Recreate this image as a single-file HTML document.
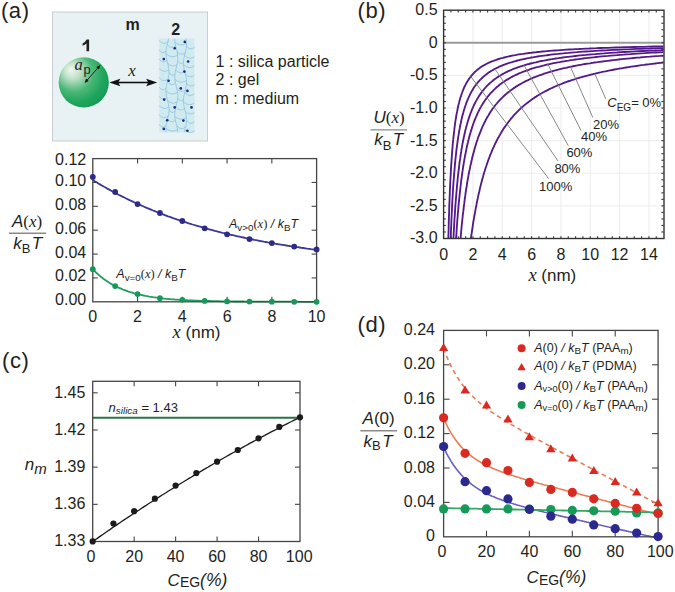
<!DOCTYPE html>
<html><head><meta charset="utf-8"><style>
html,body{margin:0;padding:0;background:#fff;overflow:hidden;width:675px;height:592px;}
svg{display:block;}

</style></head><body>
<svg width="675" height="592" viewBox="0 0 675 592">
<rect width="675" height="592" fill="#fff"/>
<text x="0.90" y="18.00" font-size="22" font-family='"Liberation Sans", sans-serif' text-anchor="start" fill="#231f20" letter-spacing="0.6">(a)</text>
<text x="357.60" y="18.20" font-size="22" font-family='"Liberation Sans", sans-serif' text-anchor="start" fill="#231f20" letter-spacing="0.6">(b)</text>
<text x="2.00" y="368.40" font-size="22" font-family='"Liberation Sans", sans-serif' text-anchor="start" fill="#231f20" letter-spacing="0.6">(c)</text>
<text x="357.50" y="331.90" font-size="22" font-family='"Liberation Sans", sans-serif' text-anchor="start" fill="#231f20" letter-spacing="0.6">(d)</text>
<defs><radialGradient id="sph" cx="0.38" cy="0.38" r="0.78" fx="0.24" fy="0.24"><stop offset="0" stop-color="#f2f7ef"/><stop offset="0.2" stop-color="#c2e3ca"/><stop offset="0.48" stop-color="#4cb878"/><stop offset="0.72" stop-color="#1ea55c"/><stop offset="1" stop-color="#129553"/></radialGradient><marker id="ah" viewBox="0 0 10 10" refX="10" refY="5" markerWidth="7" markerHeight="7" orient="auto-start-reverse" markerUnits="userSpaceOnUse"><path d="M0 0 L10 5 L0 10 L3 5 z" fill="#111"/></marker><marker id="ah2" viewBox="0 0 10 10" refX="10" refY="5" markerWidth="4" markerHeight="4" orient="auto-start-reverse" markerUnits="userSpaceOnUse"><path d="M0 0 L10 5 L0 10 z" fill="#111"/></marker></defs>
<rect x="52.5" y="12" width="155" height="129" fill="#e8f2f5" stroke="#c9cdd0" stroke-width="1"/>
<circle cx="83.75" cy="82.4" r="25.1" fill="url(#sph)"/>
<line x1="86.5" y1="80.8" x2="98.5" y2="67.2" stroke="#111" stroke-width="0.9"/>
<path d="M84.6 82.9 L86.0 78.6 L88.6 80.9 Z" fill="#111"/>
<path d="M100.4 65.0 L99.0 69.3 L96.4 67.0 Z" fill="#111"/>
<text x="74.60" y="70.20" font-size="16.5" font-family='"Liberation Serif", serif' text-anchor="start" fill="#231f20" font-style="italic" >a</text>
<text x="83.60" y="74.20" font-size="13" font-family='"Liberation Sans", sans-serif' text-anchor="start" fill="#231f20" >p</text>
<path d="M86.6 39.6 L89.1 39.6 L89.1 51.2 L86.5 51.2 L86.5 43.6 Q84.8 45.0 82.6 45.7 L82.6 43.4 Q85.5 42.2 86.6 39.6 Z" fill="#231f20"/>
<text x="125.50" y="29.60" font-size="16" font-family='"Liberation Sans", sans-serif' text-anchor="start" fill="#231f20" font-weight="bold" >m</text>
<text x="171.30" y="35.10" font-size="16" font-family='"Liberation Sans", sans-serif' text-anchor="start" fill="#231f20" font-weight="bold" >2</text>
<line x1="118" y1="82.5" x2="149" y2="82.5" stroke="#111" stroke-width="1.6"/>
<path d="M109.3 82.5 L120.3 78.7 L118.3 82.5 L120.3 86.3 Z" fill="#111"/>
<path d="M157.2 82.5 L146.2 78.7 L148.2 82.5 L146.2 86.3 Z" fill="#111"/>
<text x="128.20" y="76.30" font-size="17" font-family='"Liberation Serif", serif' text-anchor="start" fill="#231f20" font-style="italic" >x</text>
<rect x="159.2" y="38.6" width="35.3" height="93.8" fill="#d0eaf0"/>
<path d="M168.7 38.6 L168.2 41.0 L167.6 43.4 L166.9 45.8 L166.4 48.2 L166.0 50.6 L165.9 53.0 L166.0 55.4 L166.4 57.8 L166.9 60.2 L167.5 62.7 L168.2 65.1 L168.7 67.5 L169.0 69.9 L169.1 72.3 L168.9 74.7 L168.5 77.1 L168.0 79.5 L167.4 81.9 L166.7 84.3 L166.3 86.7 L166.0 89.1 L165.9 91.5 L166.1 93.9 L166.5 96.3 L167.1 98.7 L167.7 101.1 L168.3 103.5 L168.8 105.9 L169.1 108.3 L169.1 110.8 L168.8 113.2 L168.4 115.6 L167.8 118.0 L167.1 120.4 L166.6 122.8 L166.1 125.2 L165.9 127.6 L166.0 130.0 L166.2 132.4 M174.7 38.6 L174.8 41.0 L175.1 43.4 L175.6 45.8 L176.2 48.2 L176.8 50.6 L177.4 53.0 L177.7 55.4 L177.9 57.8 L177.8 60.2 L177.5 62.7 L176.9 65.1 L176.3 67.5 L175.7 69.9 L175.2 72.3 L174.8 74.7 L174.7 77.1 L174.8 79.5 L175.2 81.9 L175.8 84.3 L176.4 86.7 L177.0 89.1 L177.5 91.5 L177.8 93.9 L177.9 96.3 L177.7 98.7 L177.3 101.1 L176.7 103.5 L176.1 105.9 L175.5 108.3 L175.0 110.8 L174.8 113.2 L174.7 115.6 L174.9 118.0 L175.4 120.4 L176.0 122.8 L176.6 125.2 L177.2 127.6 L177.6 130.0 L177.9 132.4 M185.9 38.6 L186.4 41.0 L186.6 43.4 L186.6 45.8 L186.3 48.2 L185.8 50.6 L185.2 53.0 L184.6 55.4 L184.0 57.8 L183.6 60.2 L183.4 62.7 L183.5 65.1 L183.8 67.5 L184.3 69.9 L184.9 72.3 L185.5 74.7 L186.1 77.1 L186.5 79.5 L186.6 81.9 L186.5 84.3 L186.1 86.7 L185.6 89.1 L185.0 91.5 L184.4 93.9 L183.8 96.3 L183.5 98.7 L183.4 101.1 L183.6 103.5 L183.9 105.9 L184.5 108.3 L185.1 110.8 L185.7 113.2 L186.2 115.6 L186.5 118.0 L186.6 120.4 L186.4 122.8 L186.0 125.2 L185.4 127.6 L184.8 130.0 L184.2 132.4 M159.2 40.6 Q163.6 45.6 168.0 41.8 M159.2 49.9 Q162.6 54.9 166.0 51.1 M159.2 59.2 Q163.1 64.2 167.0 60.4 M159.2 68.5 Q164.1 73.5 169.0 69.7 M159.2 77.8 Q163.7 82.8 168.1 79.0 M159.2 87.1 Q162.6 92.1 166.0 88.3 M159.2 96.4 Q163.0 101.4 166.8 97.6 M159.2 105.7 Q164.1 110.7 168.9 106.9 M159.2 115.0 Q163.7 120.0 168.2 116.2 M159.2 124.3 Q162.6 129.3 166.1 125.5 M167.2 44.6 Q171.4 49.6 175.6 45.8 M165.9 53.9 Q171.8 58.9 177.7 55.1 M167.7 63.2 Q172.4 68.2 177.1 64.4 M169.1 72.5 Q172.0 77.5 174.9 73.7 M167.4 81.8 Q171.4 86.8 175.4 83.0 M165.9 91.1 Q171.8 96.1 177.6 92.3 M167.6 100.4 Q172.4 105.4 177.2 101.6 M169.1 109.7 Q172.1 114.7 175.0 110.9 M167.5 119.0 Q171.4 124.0 175.3 120.2 M165.9 128.3 Q171.7 133.3 177.6 129.5 M174.9 42.1 Q180.7 47.1 186.6 43.3 M177.0 51.4 Q181.2 56.4 185.3 52.6 M177.8 60.7 Q180.6 65.7 183.4 61.9 M175.7 70.0 Q180.1 75.0 184.6 71.2 M174.8 79.3 Q180.7 84.3 186.5 80.5 M176.9 88.6 Q181.2 93.6 185.4 89.8 M177.8 97.9 Q180.6 102.9 183.5 99.1 M175.8 107.2 Q180.1 112.2 184.5 108.4 M174.8 116.5 Q180.6 121.5 186.5 117.7 M176.7 125.8 Q181.2 130.8 185.6 127.0 M186.5 46.1 Q190.5 51.1 194.5 47.3 M184.6 55.4 Q189.5 60.4 194.5 56.6 M183.5 64.7 Q189.0 69.7 194.5 65.9 M185.4 74.0 Q189.9 79.0 194.5 75.2 M186.6 83.3 Q190.5 88.3 194.5 84.5 M184.7 92.6 Q189.6 97.6 194.5 93.8 M183.4 101.9 Q189.0 106.9 194.5 103.1 M185.2 111.2 Q189.9 116.2 194.5 112.4 M186.6 120.5 Q190.5 125.5 194.5 121.7 M184.8 129.8 Q189.7 134.8 194.5 131.0" fill="none" stroke="#72b4d6" stroke-width="0.55"/>
<circle cx="184.8" cy="41.9" r="1.3" fill="#1c2580"/>
<circle cx="174.7" cy="48.3" r="1.3" fill="#1c2580"/>
<circle cx="163.8" cy="59.1" r="1.3" fill="#1c2580"/>
<circle cx="188.1" cy="61.5" r="1.3" fill="#1c2580"/>
<circle cx="184.4" cy="71.6" r="1.3" fill="#1c2580"/>
<circle cx="168.6" cy="80.7" r="1.3" fill="#1c2580"/>
<circle cx="180.8" cy="88.4" r="1.3" fill="#1c2580"/>
<circle cx="187.4" cy="90.9" r="1.3" fill="#1c2580"/>
<circle cx="164.2" cy="99.6" r="1.3" fill="#1c2580"/>
<circle cx="174.7" cy="107.4" r="1.3" fill="#1c2580"/>
<circle cx="191.5" cy="107.4" r="1.3" fill="#1c2580"/>
<circle cx="167.2" cy="120.2" r="1.3" fill="#1c2580"/>
<circle cx="183.4" cy="120.6" r="1.3" fill="#1c2580"/>
<circle cx="163.8" cy="128.9" r="1.3" fill="#1c2580"/>
<circle cx="187.4" cy="130.7" r="1.3" fill="#1c2580"/>
<text x="215.60" y="66.80" font-size="16" font-family='"Liberation Sans", sans-serif' text-anchor="start" fill="#231f20" >1 : silica particle</text>
<text x="215.60" y="85.40" font-size="16" font-family='"Liberation Sans", sans-serif' text-anchor="start" fill="#231f20" >2 : gel</text>
<text x="215.60" y="104.10" font-size="16" font-family='"Liberation Sans", sans-serif' text-anchor="start" fill="#231f20" >m : medium</text>
<line x1="92.80" y1="277.93" x2="97.80" y2="277.93" stroke="#454545" stroke-width="1.1" />
<line x1="316.60" y1="277.93" x2="311.60" y2="277.93" stroke="#454545" stroke-width="1.1" />
<line x1="92.80" y1="254.07" x2="97.80" y2="254.07" stroke="#454545" stroke-width="1.1" />
<line x1="316.60" y1="254.07" x2="311.60" y2="254.07" stroke="#454545" stroke-width="1.1" />
<line x1="92.80" y1="230.20" x2="97.80" y2="230.20" stroke="#454545" stroke-width="1.1" />
<line x1="316.60" y1="230.20" x2="311.60" y2="230.20" stroke="#454545" stroke-width="1.1" />
<line x1="92.80" y1="206.33" x2="97.80" y2="206.33" stroke="#454545" stroke-width="1.1" />
<line x1="316.60" y1="206.33" x2="311.60" y2="206.33" stroke="#454545" stroke-width="1.1" />
<line x1="92.80" y1="182.47" x2="97.80" y2="182.47" stroke="#454545" stroke-width="1.1" />
<line x1="316.60" y1="182.47" x2="311.60" y2="182.47" stroke="#454545" stroke-width="1.1" />
<line x1="137.56" y1="158.60" x2="137.56" y2="163.60" stroke="#454545" stroke-width="1.1" />
<line x1="137.56" y1="301.80" x2="137.56" y2="296.80" stroke="#454545" stroke-width="1.1" />
<line x1="182.32" y1="158.60" x2="182.32" y2="163.60" stroke="#454545" stroke-width="1.1" />
<line x1="182.32" y1="301.80" x2="182.32" y2="296.80" stroke="#454545" stroke-width="1.1" />
<line x1="227.08" y1="158.60" x2="227.08" y2="163.60" stroke="#454545" stroke-width="1.1" />
<line x1="227.08" y1="301.80" x2="227.08" y2="296.80" stroke="#454545" stroke-width="1.1" />
<line x1="271.84" y1="158.60" x2="271.84" y2="163.60" stroke="#454545" stroke-width="1.1" />
<line x1="271.84" y1="301.80" x2="271.84" y2="296.80" stroke="#454545" stroke-width="1.1" />
<text x="86.20" y="305.15" font-size="16" font-family='"Liberation Sans", sans-serif' text-anchor="end" fill="#231f20" >0.00</text>
<text x="86.20" y="281.45" font-size="16" font-family='"Liberation Sans", sans-serif' text-anchor="end" fill="#231f20" >0.02</text>
<text x="86.20" y="257.75" font-size="16" font-family='"Liberation Sans", sans-serif' text-anchor="end" fill="#231f20" >0.04</text>
<text x="86.20" y="234.25" font-size="16" font-family='"Liberation Sans", sans-serif' text-anchor="end" fill="#231f20" >0.06</text>
<text x="86.20" y="209.95" font-size="16" font-family='"Liberation Sans", sans-serif' text-anchor="end" fill="#231f20" >0.08</text>
<text x="86.20" y="185.65" font-size="16" font-family='"Liberation Sans", sans-serif' text-anchor="end" fill="#231f20" >0.10</text>
<text x="86.20" y="164.95" font-size="16" font-family='"Liberation Sans", sans-serif' text-anchor="end" fill="#231f20" >0.12</text>
<text x="92.80" y="321.60" font-size="16" font-family='"Liberation Sans", sans-serif' text-anchor="middle" fill="#231f20" >0</text>
<text x="137.56" y="321.60" font-size="16" font-family='"Liberation Sans", sans-serif' text-anchor="middle" fill="#231f20" >2</text>
<text x="182.32" y="321.60" font-size="16" font-family='"Liberation Sans", sans-serif' text-anchor="middle" fill="#231f20" >4</text>
<text x="227.08" y="321.60" font-size="16" font-family='"Liberation Sans", sans-serif' text-anchor="middle" fill="#231f20" >6</text>
<text x="271.84" y="321.60" font-size="16" font-family='"Liberation Sans", sans-serif' text-anchor="middle" fill="#231f20" >8</text>
<text x="316.60" y="321.60" font-size="16" font-family='"Liberation Sans", sans-serif' text-anchor="middle" fill="#231f20" >10</text>
<path d="M92.8 180.0 L94.7 181.2 L96.6 182.3 L98.4 183.5 L100.3 184.6 L102.2 185.7 L104.1 186.8 L106.0 187.8 L107.8 188.9 L109.7 189.9 L111.6 191.0 L113.5 192.0 L115.4 193.0 L117.2 194.0 L119.1 195.0 L121.0 195.9 L122.9 196.9 L124.8 197.8 L126.7 198.7 L128.5 199.6 L130.4 200.5 L132.3 201.4 L134.2 202.3 L136.1 203.2 L137.9 204.0 L139.8 204.9 L141.7 205.7 L143.6 206.5 L145.5 207.3 L147.3 208.1 L149.2 208.9 L151.1 209.7 L153.0 210.5 L154.9 211.2 L156.7 212.0 L158.6 212.7 L160.5 213.4 L162.4 214.2 L164.3 214.9 L166.1 215.6 L168.0 216.3 L169.9 216.9 L171.8 217.6 L173.7 218.3 L175.5 218.9 L177.4 219.6 L179.3 220.2 L181.2 220.9 L183.1 221.5 L185.0 222.1 L186.8 222.7 L188.7 223.3 L190.6 223.9 L192.5 224.5 L194.4 225.0 L196.2 225.6 L198.1 226.2 L200.0 226.7 L201.9 227.2 L203.8 227.8 L205.6 228.3 L207.5 228.8 L209.4 229.4 L211.3 229.9 L213.2 230.4 L215.0 230.9 L216.9 231.3 L218.8 231.8 L220.7 232.3 L222.6 232.8 L224.4 233.2 L226.3 233.7 L228.2 234.1 L230.1 234.6 L232.0 235.0 L233.9 235.5 L235.7 235.9 L237.6 236.3 L239.5 236.7 L241.4 237.1 L243.3 237.5 L245.1 237.9 L247.0 238.3 L248.9 238.7 L250.8 239.1 L252.7 239.5 L254.5 239.9 L256.4 240.2 L258.3 240.6 L260.2 241.0 L262.1 241.3 L263.9 241.7 L265.8 242.0 L267.7 242.4 L269.6 242.7 L271.5 243.0 L273.3 243.3 L275.2 243.7 L277.1 244.0 L279.0 244.3 L280.9 244.6 L282.7 244.9 L284.6 245.2 L286.5 245.5 L288.4 245.8 L290.3 246.1 L292.2 246.4 L294.0 246.7 L295.9 247.0 L297.8 247.2 L299.7 247.5 L301.6 247.8 L303.4 248.0 L305.3 248.3 L307.2 248.6 L309.1 248.8 L311.0 249.1 L312.8 249.3 L314.7 249.6 L316.6 249.8" fill="none" stroke="#3b3795" stroke-width="1.8"/>
<path d="M92.8 269.2 L94.7 271.1 L96.6 273.0 L98.4 274.7 L100.3 276.3 L102.2 277.8 L104.1 279.2 L106.0 280.5 L107.8 281.8 L109.7 283.0 L111.6 284.1 L113.5 285.1 L115.4 286.1 L117.2 287.0 L119.1 287.9 L121.0 288.7 L122.9 289.5 L124.8 290.2 L126.7 290.9 L128.5 291.6 L130.4 292.2 L132.3 292.7 L134.2 293.3 L136.1 293.8 L137.9 294.3 L139.8 294.7 L141.7 295.1 L143.6 295.5 L145.5 295.9 L147.3 296.2 L149.2 296.6 L151.1 296.9 L153.0 297.2 L154.9 297.4 L156.7 297.7 L158.6 297.9 L160.5 298.2 L162.4 298.4 L164.3 298.6 L166.1 298.8 L168.0 298.9 L169.9 299.1 L171.8 299.3 L173.7 299.4 L175.5 299.6 L177.4 299.7 L179.3 299.8 L181.2 299.9 L183.1 300.0 L185.0 300.1 L186.8 300.2 L188.7 300.3 L190.6 300.4 L192.5 300.5 L194.4 300.6 L196.2 300.7 L198.1 300.7 L200.0 300.8 L201.9 300.8 L203.8 300.9 L205.6 301.0 L207.5 301.0 L209.4 301.0 L211.3 301.1 L213.2 301.1 L215.0 301.2 L216.9 301.2 L218.8 301.2 L220.7 301.3 L222.6 301.3 L224.4 301.3 L226.3 301.4 L228.2 301.4 L230.1 301.4 L232.0 301.4 L233.9 301.5 L235.7 301.5 L237.6 301.5 L239.5 301.5 L241.4 301.5 L243.3 301.5 L245.1 301.6 L247.0 301.6 L248.9 301.6 L250.8 301.6 L252.7 301.6 L254.5 301.6 L256.4 301.6 L258.3 301.6 L260.2 301.6 L262.1 301.7 L263.9 301.7 L265.8 301.7 L267.7 301.7 L269.6 301.7 L271.5 301.7 L273.3 301.7 L275.2 301.7 L277.1 301.7 L279.0 301.7 L280.9 301.7 L282.7 301.7 L284.6 301.7 L286.5 301.7 L288.4 301.7 L290.3 301.7 L292.2 301.7 L294.0 301.7 L295.9 301.7 L297.8 301.7 L299.7 301.8 L301.6 301.8 L303.4 301.8 L305.3 301.8 L307.2 301.8 L309.1 301.8 L311.0 301.8 L312.8 301.8 L314.7 301.8 L316.6 301.8" fill="none" stroke="#1f9e5e" stroke-width="1.8"/>
<rect x="92.80" y="158.60" width="223.80" height="143.20" fill="none" stroke="#454545" stroke-width="1.3"/>
<circle cx="92.80" cy="176.90" r="2.9" fill="#2e2a88"/>
<circle cx="115.18" cy="192.00" r="2.9" fill="#2e2a88"/>
<circle cx="137.56" cy="204.10" r="2.9" fill="#2e2a88"/>
<circle cx="159.94" cy="213.00" r="2.9" fill="#2e2a88"/>
<circle cx="182.32" cy="221.00" r="2.9" fill="#2e2a88"/>
<circle cx="204.70" cy="228.30" r="2.9" fill="#2e2a88"/>
<circle cx="227.08" cy="234.30" r="2.9" fill="#2e2a88"/>
<circle cx="249.46" cy="239.10" r="2.9" fill="#2e2a88"/>
<circle cx="271.84" cy="243.10" r="2.9" fill="#2e2a88"/>
<circle cx="294.22" cy="246.60" r="2.9" fill="#2e2a88"/>
<circle cx="316.60" cy="249.50" r="2.9" fill="#2e2a88"/>
<circle cx="92.80" cy="269.20" r="2.9" fill="#17985a"/>
<circle cx="115.18" cy="286.10" r="2.9" fill="#17985a"/>
<circle cx="137.56" cy="294.10" r="2.9" fill="#17985a"/>
<circle cx="159.94" cy="298.20" r="2.9" fill="#17985a"/>
<circle cx="182.32" cy="299.80" r="2.9" fill="#17985a"/>
<circle cx="204.70" cy="300.90" r="2.9" fill="#17985a"/>
<circle cx="227.08" cy="301.40" r="2.9" fill="#17985a"/>
<circle cx="249.46" cy="301.60" r="2.9" fill="#17985a"/>
<circle cx="271.84" cy="301.70" r="2.9" fill="#17985a"/>
<circle cx="294.22" cy="301.80" r="2.9" fill="#17985a"/>
<circle cx="316.60" cy="301.80" r="2.9" fill="#17985a"/>
<text x="229.00" y="228.00" font-size="12.5" font-family='"Liberation Sans", sans-serif' fill="#231f20"><tspan font-style="italic">A</tspan><tspan font-size="9.8" dy="2.5">v&gt;0</tspan><tspan font-family='"Liberation Serif", serif' dy="-2.5">(</tspan><tspan font-family='"Liberation Serif", serif' font-style="italic">x</tspan><tspan font-family='"Liberation Serif", serif'>)</tspan><tspan font-style="italic"> / k</tspan><tspan font-size="9.8" dy="2.5">B</tspan><tspan font-style="italic" dy="-2.5">T</tspan></text>
<text x="116.30" y="278.10" font-size="12.5" font-family='"Liberation Sans", sans-serif' fill="#231f20"><tspan font-style="italic">A</tspan><tspan font-size="9.8" dy="2.5">v=0</tspan><tspan font-family='"Liberation Serif", serif' dy="-2.5">(</tspan><tspan font-family='"Liberation Serif", serif' font-style="italic">x</tspan><tspan font-family='"Liberation Serif", serif'>)</tspan><tspan font-style="italic"> / k</tspan><tspan font-size="9.8" dy="2.5">B</tspan><tspan font-style="italic" dy="-2.5">T</tspan></text>
<text x="12" y="226.9" font-size="17" font-family='"Liberation Sans", sans-serif' fill="#231f20"><tspan font-style="italic">A</tspan><tspan font-family='"Liberation Serif", serif'>(</tspan><tspan font-family='"Liberation Serif", serif' font-style="italic">x</tspan><tspan font-family='"Liberation Serif", serif'>)</tspan></text>
<line x1="9.10" y1="233.20" x2="46.10" y2="233.20" stroke="#8a8a8a" stroke-width="1.4" />
<text x="13.2" y="248.6" font-size="17" font-family='"Liberation Sans", sans-serif' fill="#231f20"><tspan font-style="italic">k</tspan><tspan font-size="13" dy="4.5">B</tspan><tspan font-style="italic" dy="-4.5" dx="1.5">T</tspan></text>
<text x="172.6" y="337.8" font-size="17" font-family='"Liberation Sans", sans-serif' fill="#231f20"><tspan font-family='"Liberation Serif", serif' font-style="italic" font-size="18.5">x</tspan> (nm)</text>
<line x1="472.93" y1="10.20" x2="472.93" y2="238.50" stroke="#ebebeb" stroke-width="0.9" />
<line x1="502.27" y1="10.20" x2="502.27" y2="238.50" stroke="#ebebeb" stroke-width="0.9" />
<line x1="531.60" y1="10.20" x2="531.60" y2="238.50" stroke="#ebebeb" stroke-width="0.9" />
<line x1="560.93" y1="10.20" x2="560.93" y2="238.50" stroke="#ebebeb" stroke-width="0.9" />
<line x1="590.27" y1="10.20" x2="590.27" y2="238.50" stroke="#ebebeb" stroke-width="0.9" />
<line x1="619.60" y1="10.20" x2="619.60" y2="238.50" stroke="#ebebeb" stroke-width="0.9" />
<line x1="648.93" y1="10.20" x2="648.93" y2="238.50" stroke="#ebebeb" stroke-width="0.9" />
<line x1="443.60" y1="205.88" x2="663.60" y2="205.88" stroke="#ebebeb" stroke-width="0.9" />
<line x1="443.60" y1="173.27" x2="663.60" y2="173.27" stroke="#ebebeb" stroke-width="0.9" />
<line x1="443.60" y1="140.65" x2="663.60" y2="140.65" stroke="#ebebeb" stroke-width="0.9" />
<line x1="443.60" y1="108.03" x2="663.60" y2="108.03" stroke="#ebebeb" stroke-width="0.9" />
<line x1="443.60" y1="75.42" x2="663.60" y2="75.42" stroke="#ebebeb" stroke-width="0.9" />
<line x1="443.60" y1="42.80" x2="663.60" y2="42.80" stroke="#9a9a9a" stroke-width="2" />
<clipPath id="bclip"><rect x="443.60" y="10.20" width="220.00" height="228.30"/></clipPath>
<path d="M448.2 245.0 L448.3 240.1 L448.4 235.4 L448.6 230.8 L448.7 226.2 L448.8 221.8 L448.9 217.5 L449.1 213.3 L449.2 209.2 L449.3 205.1 L449.5 201.2 L449.6 197.4 L449.8 193.7 L449.9 190.0 L450.1 186.5 L450.2 183.0 L450.4 179.6 L450.6 176.3 L450.8 173.1 L450.9 170.0 L451.1 166.9 L451.3 163.9 L451.5 161.0 L451.7 158.1 L451.9 155.3 L452.1 152.6 L452.3 149.9 L452.5 147.3 L452.7 144.8 L452.9 142.4 L453.2 139.9 L453.4 137.6 L453.7 135.3 L453.9 133.1 L454.2 130.9 L454.4 128.7 L454.7 126.7 L454.9 124.6 L455.2 122.6 L455.5 120.7 L455.8 118.8 L456.1 117.0 L456.4 115.2 L456.7 113.4 L457.1 111.7 L457.4 110.0 L457.7 108.4 L458.1 106.8 L458.4 105.2 L458.8 103.7 L459.2 102.2 L459.5 100.8 L459.9 99.4 L460.3 98.0 L460.8 96.7 L461.2 95.4 L461.6 94.1 L462.1 92.8 L462.5 91.6 L463.0 90.4 L463.4 89.3 L463.9 88.1 L464.4 87.0 L464.9 85.9 L465.5 84.9 L466.0 83.8 L466.6 82.8 L467.1 81.9 L467.7 80.9 L468.3 80.0 L468.9 79.1 L469.5 78.2 L470.2 77.3 L470.8 76.5 L471.5 75.6 L472.2 74.8 L472.9 74.0 L473.6 73.3 L474.3 72.5 L475.1 71.8 L475.9 71.1 L476.7 70.4 L477.5 69.7 L478.3 69.0 L479.2 68.4 L480.0 67.7 L480.9 67.1 L481.8 66.5 L482.8 65.9 L483.8 65.4 L484.7 64.8 L485.8 64.3 L486.8 63.7 L487.9 63.2 L488.9 62.7 L490.1 62.2 L491.2 61.7 L492.4 61.2 L493.6 60.8 L494.8 60.3 L496.1 59.9 L497.3 59.5 L498.7 59.0 L500.0 58.6 L501.4 58.2 L502.8 57.9 L504.3 57.5 L505.8 57.1 L507.3 56.7 L508.9 56.4 L510.5 56.0 L512.1 55.7 L513.8 55.4 L515.5 55.1 L517.3 54.7 L519.1 54.4 L521.0 54.1 L522.9 53.9 L524.8 53.6 L526.8 53.3 L528.9 53.0 L531.0 52.8 L533.1 52.5 L535.3 52.3 L537.6 52.0 L539.9 51.8 L542.3 51.5 L544.7 51.3 L547.2 51.1 L549.7 50.9 L552.3 50.7 L555.0 50.5 L557.8 50.3 L560.6 50.1 L563.4 49.9 L566.4 49.7 L569.4 49.5 L572.5 49.3 L575.7 49.1 L578.9 49.0 L582.2 48.8 L585.7 48.6 L589.2 48.5 L592.7 48.3 L596.4 48.2 L600.2 48.0 L604.0 47.9 L608.0 47.8 L612.0 47.6 L616.1 47.5 L620.4 47.4 L624.7 47.2 L629.2 47.1 L633.8 47.0 L638.4 46.9 L643.2 46.8 L648.1 46.7 L653.2 46.5 L658.3 46.4 L663.6 46.3" fill="none" stroke="#531a8b" stroke-width="1.85" clip-path="url(#bclip)"/>
<path d="M450.5 245.0 L450.6 240.6 L450.8 236.3 L450.9 232.1 L451.1 228.0 L451.3 224.0 L451.4 220.1 L451.6 216.2 L451.8 212.5 L452.0 208.8 L452.1 205.2 L452.3 201.6 L452.5 198.2 L452.7 194.8 L452.9 191.5 L453.1 188.3 L453.3 185.1 L453.5 182.0 L453.8 179.0 L454.0 176.0 L454.2 173.1 L454.5 170.3 L454.7 167.5 L454.9 164.8 L455.2 162.1 L455.4 159.5 L455.7 157.0 L456.0 154.5 L456.2 152.1 L456.5 149.7 L456.8 147.4 L457.1 145.1 L457.4 142.9 L457.7 140.7 L458.0 138.5 L458.3 136.4 L458.7 134.4 L459.0 132.4 L459.3 130.4 L459.7 128.5 L460.0 126.7 L460.4 124.8 L460.8 123.0 L461.1 121.3 L461.5 119.6 L461.9 117.9 L462.3 116.2 L462.7 114.6 L463.2 113.0 L463.6 111.5 L464.0 110.0 L464.5 108.5 L464.9 107.1 L465.4 105.7 L465.9 104.3 L466.4 102.9 L466.9 101.6 L467.4 100.3 L467.9 99.1 L468.5 97.8 L469.0 96.6 L469.6 95.4 L470.1 94.3 L470.7 93.1 L471.3 92.0 L471.9 90.9 L472.6 89.9 L473.2 88.8 L473.8 87.8 L474.5 86.8 L475.2 85.8 L475.9 84.9 L476.6 83.9 L477.3 83.0 L478.1 82.1 L478.8 81.3 L479.6 80.4 L480.4 79.6 L481.2 78.8 L482.0 78.0 L482.9 77.2 L483.8 76.4 L484.6 75.7 L485.6 74.9 L486.5 74.2 L487.4 73.5 L488.4 72.8 L489.4 72.1 L490.4 71.5 L491.4 70.8 L492.5 70.2 L493.5 69.6 L494.6 69.0 L495.8 68.4 L496.9 67.8 L498.1 67.3 L499.3 66.7 L500.5 66.2 L501.8 65.6 L503.1 65.1 L504.4 64.6 L505.7 64.1 L507.1 63.6 L508.5 63.2 L509.9 62.7 L511.4 62.3 L512.9 61.8 L514.4 61.4 L516.0 61.0 L517.6 60.5 L519.2 60.1 L520.8 59.7 L522.6 59.3 L524.3 59.0 L526.1 58.6 L527.9 58.2 L529.7 57.9 L531.6 57.5 L533.6 57.2 L535.6 56.8 L537.6 56.5 L539.7 56.2 L541.8 55.9 L544.0 55.6 L546.2 55.3 L548.4 55.0 L550.7 54.7 L553.1 54.4 L555.5 54.1 L558.0 53.9 L560.5 53.6 L563.1 53.4 L565.7 53.1 L568.4 52.9 L571.2 52.6 L574.0 52.4 L576.8 52.2 L579.8 51.9 L582.8 51.7 L585.8 51.5 L589.0 51.3 L592.2 51.1 L595.5 50.9 L598.8 50.7 L602.2 50.5 L605.7 50.3 L609.3 50.1 L613.0 49.9 L616.7 49.8 L620.5 49.6 L624.4 49.4 L628.4 49.3 L632.5 49.1 L636.6 48.9 L640.9 48.8 L645.2 48.6 L649.7 48.5 L654.2 48.3 L658.9 48.2 L663.6 48.1" fill="none" stroke="#531a8b" stroke-width="1.85" clip-path="url(#bclip)"/>
<path d="M453.1 245.0 L453.3 241.0 L453.5 237.1 L453.7 233.3 L453.9 229.5 L454.1 225.9 L454.3 222.2 L454.5 218.7 L454.8 215.2 L455.0 211.8 L455.2 208.5 L455.4 205.2 L455.7 202.0 L455.9 198.9 L456.2 195.8 L456.4 192.8 L456.7 189.8 L456.9 186.9 L457.2 184.0 L457.5 181.3 L457.7 178.5 L458.0 175.8 L458.3 173.2 L458.6 170.6 L458.9 168.1 L459.2 165.6 L459.5 163.2 L459.8 160.8 L460.2 158.4 L460.5 156.1 L460.8 153.9 L461.2 151.7 L461.5 149.5 L461.9 147.4 L462.2 145.3 L462.6 143.3 L463.0 141.3 L463.4 139.3 L463.8 137.4 L464.2 135.5 L464.6 133.7 L465.0 131.9 L465.4 130.1 L465.9 128.4 L466.3 126.7 L466.8 125.0 L467.2 123.4 L467.7 121.8 L468.2 120.2 L468.7 118.6 L469.2 117.1 L469.7 115.6 L470.2 114.2 L470.7 112.8 L471.3 111.4 L471.8 110.0 L472.4 108.6 L473.0 107.3 L473.5 106.0 L474.1 104.8 L474.8 103.5 L475.4 102.3 L476.0 101.1 L476.7 99.9 L477.3 98.8 L478.0 97.7 L478.7 96.6 L479.4 95.5 L480.1 94.4 L480.8 93.4 L481.6 92.3 L482.3 91.3 L483.1 90.4 L483.9 89.4 L484.7 88.5 L485.5 87.5 L486.3 86.6 L487.2 85.7 L488.0 84.9 L488.9 84.0 L489.8 83.2 L490.8 82.4 L491.7 81.6 L492.7 80.8 L493.6 80.0 L494.6 79.2 L495.7 78.5 L496.7 77.8 L497.7 77.1 L498.8 76.4 L499.9 75.7 L501.1 75.0 L502.2 74.3 L503.4 73.7 L504.6 73.0 L505.8 72.4 L507.0 71.8 L508.3 71.2 L509.6 70.6 L510.9 70.1 L512.2 69.5 L513.6 68.9 L515.0 68.4 L516.4 67.9 L517.9 67.3 L519.3 66.8 L520.9 66.3 L522.4 65.8 L524.0 65.4 L525.6 64.9 L527.2 64.4 L528.9 64.0 L530.6 63.5 L532.3 63.1 L534.1 62.7 L535.9 62.3 L537.7 61.8 L539.6 61.4 L541.5 61.0 L543.5 60.7 L545.5 60.3 L547.5 59.9 L549.6 59.5 L551.7 59.2 L553.8 58.8 L556.0 58.5 L558.3 58.2 L560.6 57.8 L562.9 57.5 L565.3 57.2 L567.7 56.9 L570.2 56.6 L572.7 56.3 L575.3 56.0 L577.9 55.7 L580.6 55.4 L583.3 55.1 L586.1 54.9 L588.9 54.6 L591.8 54.3 L594.8 54.1 L597.8 53.8 L600.9 53.6 L604.0 53.4 L607.2 53.1 L610.5 52.9 L613.8 52.7 L617.2 52.5 L620.6 52.2 L624.2 52.0 L627.8 51.8 L631.5 51.6 L635.2 51.4 L639.0 51.2 L642.9 51.0 L646.9 50.8 L650.9 50.6 L655.1 50.5 L659.3 50.3 L663.6 50.1" fill="none" stroke="#531a8b" stroke-width="1.85" clip-path="url(#bclip)"/>
<path d="M455.7 245.0 L455.9 241.3 L456.1 237.7 L456.4 234.1 L456.6 230.6 L456.8 227.2 L457.1 223.8 L457.3 220.5 L457.6 217.3 L457.8 214.1 L458.1 210.9 L458.4 207.9 L458.6 204.8 L458.9 201.9 L459.2 199.0 L459.5 196.1 L459.8 193.3 L460.1 190.5 L460.4 187.8 L460.7 185.2 L461.0 182.5 L461.3 180.0 L461.7 177.5 L462.0 175.0 L462.3 172.6 L462.7 170.2 L463.0 167.8 L463.4 165.5 L463.7 163.3 L464.1 161.1 L464.5 158.9 L464.9 156.7 L465.3 154.7 L465.7 152.6 L466.1 150.6 L466.5 148.6 L466.9 146.6 L467.3 144.7 L467.8 142.8 L468.2 141.0 L468.7 139.2 L469.1 137.4 L469.6 135.6 L470.1 133.9 L470.6 132.2 L471.1 130.6 L471.6 129.0 L472.1 127.4 L472.6 125.8 L473.1 124.3 L473.7 122.8 L474.2 121.3 L474.8 119.8 L475.4 118.4 L476.0 117.0 L476.6 115.6 L477.2 114.2 L477.8 112.9 L478.4 111.6 L479.1 110.3 L479.7 109.1 L480.4 107.8 L481.1 106.6 L481.7 105.4 L482.5 104.3 L483.2 103.1 L483.9 102.0 L484.6 100.9 L485.4 99.8 L486.2 98.7 L486.9 97.7 L487.7 96.6 L488.6 95.6 L489.4 94.6 L490.2 93.7 L491.1 92.7 L492.0 91.8 L492.9 90.9 L493.8 89.9 L494.7 89.1 L495.6 88.2 L496.6 87.3 L497.6 86.5 L498.6 85.7 L499.6 84.8 L500.6 84.1 L501.6 83.3 L502.7 82.5 L503.8 81.7 L504.9 81.0 L506.0 80.3 L507.2 79.6 L508.4 78.9 L509.6 78.2 L510.8 77.5 L512.0 76.8 L513.3 76.2 L514.6 75.5 L515.9 74.9 L517.2 74.3 L518.5 73.7 L519.9 73.1 L521.3 72.5 L522.8 71.9 L524.2 71.4 L525.7 70.8 L527.2 70.3 L528.8 69.8 L530.3 69.2 L531.9 68.7 L533.6 68.2 L535.2 67.7 L536.9 67.2 L538.6 66.8 L540.4 66.3 L542.2 65.8 L544.0 65.4 L545.8 64.9 L547.7 64.5 L549.6 64.1 L551.6 63.7 L553.6 63.2 L555.6 62.8 L557.6 62.4 L559.7 62.1 L561.9 61.7 L564.1 61.3 L566.3 60.9 L568.5 60.6 L570.8 60.2 L573.2 59.9 L575.6 59.5 L578.0 59.2 L580.5 58.8 L583.0 58.5 L585.6 58.2 L588.2 57.9 L590.8 57.6 L593.6 57.3 L596.3 57.0 L599.1 56.7 L602.0 56.4 L604.9 56.1 L607.9 55.9 L610.9 55.6 L614.0 55.3 L617.1 55.1 L620.3 54.8 L623.6 54.6 L626.9 54.3 L630.3 54.1 L633.7 53.8 L637.2 53.6 L640.8 53.4 L644.4 53.2 L648.1 52.9 L651.9 52.7 L655.7 52.5 L659.6 52.3 L663.6 52.1" fill="none" stroke="#531a8b" stroke-width="1.85" clip-path="url(#bclip)"/>
<path d="M460.0 245.0 L460.3 241.7 L460.6 238.4 L460.9 235.2 L461.1 232.1 L461.4 229.0 L461.7 225.9 L462.0 222.9 L462.3 220.0 L462.6 217.0 L462.9 214.2 L463.3 211.4 L463.6 208.6 L463.9 205.9 L464.3 203.2 L464.6 200.5 L464.9 197.9 L465.3 195.4 L465.6 192.9 L466.0 190.4 L466.4 188.0 L466.8 185.6 L467.1 183.2 L467.5 180.9 L467.9 178.6 L468.3 176.4 L468.7 174.2 L469.1 172.0 L469.6 169.9 L470.0 167.8 L470.4 165.7 L470.9 163.7 L471.3 161.7 L471.8 159.7 L472.2 157.8 L472.7 155.9 L473.2 154.0 L473.7 152.2 L474.2 150.4 L474.7 148.6 L475.2 146.8 L475.7 145.1 L476.2 143.4 L476.7 141.7 L477.3 140.1 L477.8 138.5 L478.4 136.9 L479.0 135.3 L479.6 133.8 L480.2 132.3 L480.8 130.8 L481.4 129.3 L482.0 127.9 L482.6 126.4 L483.3 125.0 L483.9 123.7 L484.6 122.3 L485.3 121.0 L485.9 119.7 L486.6 118.4 L487.3 117.1 L488.1 115.9 L488.8 114.7 L489.5 113.5 L490.3 112.3 L491.1 111.1 L491.8 110.0 L492.6 108.8 L493.4 107.7 L494.3 106.6 L495.1 105.5 L495.9 104.5 L496.8 103.5 L497.7 102.4 L498.6 101.4 L499.5 100.4 L500.4 99.5 L501.3 98.5 L502.3 97.6 L503.2 96.6 L504.2 95.7 L505.2 94.8 L506.2 93.9 L507.3 93.1 L508.3 92.2 L509.4 91.4 L510.5 90.5 L511.6 89.7 L512.7 88.9 L513.8 88.1 L515.0 87.4 L516.1 86.6 L517.3 85.9 L518.5 85.1 L519.8 84.4 L521.0 83.7 L522.3 83.0 L523.6 82.3 L524.9 81.6 L526.3 80.9 L527.6 80.3 L529.0 79.6 L530.4 79.0 L531.8 78.4 L533.3 77.7 L534.8 77.1 L536.3 76.5 L537.8 76.0 L539.3 75.4 L540.9 74.8 L542.5 74.3 L544.1 73.7 L545.8 73.2 L547.5 72.6 L549.2 72.1 L550.9 71.6 L552.7 71.1 L554.5 70.6 L556.3 70.1 L558.1 69.6 L560.0 69.1 L561.9 68.7 L563.9 68.2 L565.9 67.8 L567.9 67.3 L569.9 66.9 L572.0 66.5 L574.1 66.0 L576.3 65.6 L578.4 65.2 L580.7 64.8 L582.9 64.4 L585.2 64.0 L587.5 63.6 L589.9 63.3 L592.3 62.9 L594.8 62.5 L597.3 62.2 L599.8 61.8 L602.3 61.5 L605.0 61.1 L607.6 60.8 L610.3 60.5 L613.1 60.1 L615.8 59.8 L618.7 59.5 L621.6 59.2 L624.5 58.9 L627.5 58.6 L630.5 58.3 L633.6 58.0 L636.7 57.7 L639.9 57.5 L643.1 57.2 L646.4 56.9 L649.7 56.7 L653.1 56.4 L656.5 56.1 L660.0 55.9 L663.6 55.6" fill="none" stroke="#531a8b" stroke-width="1.85" clip-path="url(#bclip)"/>
<path d="M470.1 245.0 L470.4 242.3 L470.8 239.6 L471.1 236.9 L471.5 234.2 L471.9 231.6 L472.3 229.0 L472.7 226.5 L473.0 224.0 L473.4 221.5 L473.8 219.1 L474.2 216.7 L474.7 214.3 L475.1 211.9 L475.5 209.6 L475.9 207.3 L476.4 205.1 L476.8 202.9 L477.2 200.7 L477.7 198.5 L478.1 196.4 L478.6 194.3 L479.1 192.2 L479.6 190.1 L480.0 188.1 L480.5 186.1 L481.0 184.1 L481.5 182.2 L482.0 180.3 L482.5 178.4 L483.1 176.5 L483.6 174.6 L484.1 172.8 L484.7 171.0 L485.2 169.3 L485.8 167.5 L486.4 165.8 L486.9 164.1 L487.5 162.4 L488.1 160.7 L488.7 159.1 L489.3 157.5 L489.9 155.9 L490.5 154.3 L491.2 152.8 L491.8 151.2 L492.4 149.7 L493.1 148.2 L493.8 146.8 L494.4 145.3 L495.1 143.9 L495.8 142.5 L496.5 141.1 L497.2 139.7 L497.9 138.3 L498.7 137.0 L499.4 135.7 L500.2 134.4 L500.9 133.1 L501.7 131.8 L502.5 130.6 L503.2 129.3 L504.0 128.1 L504.9 126.9 L505.7 125.7 L506.5 124.5 L507.4 123.4 L508.2 122.2 L509.1 121.1 L510.0 120.0 L510.8 118.9 L511.7 117.8 L512.7 116.8 L513.6 115.7 L514.5 114.7 L515.5 113.6 L516.4 112.6 L517.4 111.6 L518.4 110.7 L519.4 109.7 L520.4 108.7 L521.5 107.8 L522.5 106.8 L523.6 105.9 L524.6 105.0 L525.7 104.1 L526.8 103.2 L527.9 102.4 L529.1 101.5 L530.2 100.7 L531.4 99.8 L532.5 99.0 L533.7 98.2 L534.9 97.4 L536.2 96.6 L537.4 95.8 L538.7 95.0 L539.9 94.3 L541.2 93.5 L542.5 92.8 L543.9 92.0 L545.2 91.3 L546.6 90.6 L548.0 89.9 L549.4 89.2 L550.8 88.5 L552.2 87.8 L553.7 87.2 L555.1 86.5 L556.6 85.9 L558.2 85.2 L559.7 84.6 L561.2 84.0 L562.8 83.3 L564.4 82.7 L566.0 82.1 L567.7 81.5 L569.3 81.0 L571.0 80.4 L572.7 79.8 L574.5 79.3 L576.2 78.7 L578.0 78.2 L579.8 77.6 L581.6 77.1 L583.5 76.6 L585.4 76.1 L587.3 75.6 L589.2 75.1 L591.1 74.6 L593.1 74.1 L595.1 73.6 L597.2 73.1 L599.2 72.6 L601.3 72.2 L603.4 71.7 L605.6 71.3 L607.7 70.8 L609.9 70.4 L612.2 70.0 L614.4 69.5 L616.7 69.1 L619.0 68.7 L621.4 68.3 L623.8 67.9 L626.2 67.5 L628.6 67.1 L631.1 66.7 L633.6 66.3 L636.2 66.0 L638.7 65.6 L641.4 65.2 L644.0 64.9 L646.7 64.5 L649.4 64.2 L652.2 63.8 L655.0 63.5 L657.8 63.1 L660.7 62.8 L663.6 62.5" fill="none" stroke="#531a8b" stroke-width="1.85" clip-path="url(#bclip)"/>
<line x1="470.70" y1="76.50" x2="548.80" y2="178.80" stroke="#7a7a7a" stroke-width="0.9" />
<line x1="495.60" y1="70.00" x2="558.00" y2="161.00" stroke="#7a7a7a" stroke-width="0.9" />
<line x1="524.00" y1="65.20" x2="568.30" y2="145.70" stroke="#7a7a7a" stroke-width="0.9" />
<line x1="547.70" y1="64.00" x2="581.00" y2="130.50" stroke="#7a7a7a" stroke-width="0.9" />
<line x1="570.20" y1="66.30" x2="592.80" y2="117.50" stroke="#7a7a7a" stroke-width="0.9" />
<line x1="595.10" y1="74.50" x2="605.80" y2="98.90" stroke="#7a7a7a" stroke-width="0.9" />
<text x="539.00" y="191.20" font-size="13" font-family='"Liberation Sans", sans-serif' text-anchor="start" fill="#231f20" >100%</text>
<text x="554.40" y="173.00" font-size="13" font-family='"Liberation Sans", sans-serif' text-anchor="start" fill="#231f20" >80%</text>
<text x="566.40" y="157.20" font-size="13" font-family='"Liberation Sans", sans-serif' text-anchor="start" fill="#231f20" >60%</text>
<text x="581.00" y="141.00" font-size="13" font-family='"Liberation Sans", sans-serif' text-anchor="start" fill="#231f20" >40%</text>
<text x="593.00" y="128.50" font-size="13" font-family='"Liberation Sans", sans-serif' text-anchor="start" fill="#231f20" >20%</text>
<text x="607.3" y="107.2" font-size="13" font-family='"Liberation Sans", sans-serif' fill="#231f20"><tspan font-style="italic">C</tspan><tspan font-size="10" dy="4">EG</tspan><tspan dy="-4">= 0%</tspan></text>
<rect x="443.60" y="10.20" width="220.40" height="228.30" fill="none" stroke="#333" stroke-width="1.4"/>
<line x1="450.93" y1="238.50" x2="450.93" y2="236.30" stroke="#333" stroke-width="1.1" />
<line x1="450.93" y1="10.20" x2="450.93" y2="12.40" stroke="#333" stroke-width="1.1" />
<line x1="458.27" y1="238.50" x2="458.27" y2="236.30" stroke="#333" stroke-width="1.1" />
<line x1="458.27" y1="10.20" x2="458.27" y2="12.40" stroke="#333" stroke-width="1.1" />
<line x1="465.60" y1="238.50" x2="465.60" y2="236.30" stroke="#333" stroke-width="1.1" />
<line x1="465.60" y1="10.20" x2="465.60" y2="12.40" stroke="#333" stroke-width="1.1" />
<line x1="472.93" y1="238.50" x2="472.93" y2="236.30" stroke="#333" stroke-width="1.1" />
<line x1="472.93" y1="10.20" x2="472.93" y2="12.40" stroke="#333" stroke-width="1.1" />
<line x1="480.27" y1="238.50" x2="480.27" y2="236.30" stroke="#333" stroke-width="1.1" />
<line x1="480.27" y1="10.20" x2="480.27" y2="12.40" stroke="#333" stroke-width="1.1" />
<line x1="487.60" y1="238.50" x2="487.60" y2="236.30" stroke="#333" stroke-width="1.1" />
<line x1="487.60" y1="10.20" x2="487.60" y2="12.40" stroke="#333" stroke-width="1.1" />
<line x1="494.93" y1="238.50" x2="494.93" y2="236.30" stroke="#333" stroke-width="1.1" />
<line x1="494.93" y1="10.20" x2="494.93" y2="12.40" stroke="#333" stroke-width="1.1" />
<line x1="502.27" y1="238.50" x2="502.27" y2="236.30" stroke="#333" stroke-width="1.1" />
<line x1="502.27" y1="10.20" x2="502.27" y2="12.40" stroke="#333" stroke-width="1.1" />
<line x1="509.60" y1="238.50" x2="509.60" y2="236.30" stroke="#333" stroke-width="1.1" />
<line x1="509.60" y1="10.20" x2="509.60" y2="12.40" stroke="#333" stroke-width="1.1" />
<line x1="516.93" y1="238.50" x2="516.93" y2="236.30" stroke="#333" stroke-width="1.1" />
<line x1="516.93" y1="10.20" x2="516.93" y2="12.40" stroke="#333" stroke-width="1.1" />
<line x1="524.27" y1="238.50" x2="524.27" y2="236.30" stroke="#333" stroke-width="1.1" />
<line x1="524.27" y1="10.20" x2="524.27" y2="12.40" stroke="#333" stroke-width="1.1" />
<line x1="531.60" y1="238.50" x2="531.60" y2="236.30" stroke="#333" stroke-width="1.1" />
<line x1="531.60" y1="10.20" x2="531.60" y2="12.40" stroke="#333" stroke-width="1.1" />
<line x1="538.93" y1="238.50" x2="538.93" y2="236.30" stroke="#333" stroke-width="1.1" />
<line x1="538.93" y1="10.20" x2="538.93" y2="12.40" stroke="#333" stroke-width="1.1" />
<line x1="546.27" y1="238.50" x2="546.27" y2="236.30" stroke="#333" stroke-width="1.1" />
<line x1="546.27" y1="10.20" x2="546.27" y2="12.40" stroke="#333" stroke-width="1.1" />
<line x1="553.60" y1="238.50" x2="553.60" y2="236.30" stroke="#333" stroke-width="1.1" />
<line x1="553.60" y1="10.20" x2="553.60" y2="12.40" stroke="#333" stroke-width="1.1" />
<line x1="560.93" y1="238.50" x2="560.93" y2="236.30" stroke="#333" stroke-width="1.1" />
<line x1="560.93" y1="10.20" x2="560.93" y2="12.40" stroke="#333" stroke-width="1.1" />
<line x1="568.27" y1="238.50" x2="568.27" y2="236.30" stroke="#333" stroke-width="1.1" />
<line x1="568.27" y1="10.20" x2="568.27" y2="12.40" stroke="#333" stroke-width="1.1" />
<line x1="575.60" y1="238.50" x2="575.60" y2="236.30" stroke="#333" stroke-width="1.1" />
<line x1="575.60" y1="10.20" x2="575.60" y2="12.40" stroke="#333" stroke-width="1.1" />
<line x1="582.93" y1="238.50" x2="582.93" y2="236.30" stroke="#333" stroke-width="1.1" />
<line x1="582.93" y1="10.20" x2="582.93" y2="12.40" stroke="#333" stroke-width="1.1" />
<line x1="590.27" y1="238.50" x2="590.27" y2="236.30" stroke="#333" stroke-width="1.1" />
<line x1="590.27" y1="10.20" x2="590.27" y2="12.40" stroke="#333" stroke-width="1.1" />
<line x1="597.60" y1="238.50" x2="597.60" y2="236.30" stroke="#333" stroke-width="1.1" />
<line x1="597.60" y1="10.20" x2="597.60" y2="12.40" stroke="#333" stroke-width="1.1" />
<line x1="604.93" y1="238.50" x2="604.93" y2="236.30" stroke="#333" stroke-width="1.1" />
<line x1="604.93" y1="10.20" x2="604.93" y2="12.40" stroke="#333" stroke-width="1.1" />
<line x1="612.27" y1="238.50" x2="612.27" y2="236.30" stroke="#333" stroke-width="1.1" />
<line x1="612.27" y1="10.20" x2="612.27" y2="12.40" stroke="#333" stroke-width="1.1" />
<line x1="619.60" y1="238.50" x2="619.60" y2="236.30" stroke="#333" stroke-width="1.1" />
<line x1="619.60" y1="10.20" x2="619.60" y2="12.40" stroke="#333" stroke-width="1.1" />
<line x1="626.93" y1="238.50" x2="626.93" y2="236.30" stroke="#333" stroke-width="1.1" />
<line x1="626.93" y1="10.20" x2="626.93" y2="12.40" stroke="#333" stroke-width="1.1" />
<line x1="634.27" y1="238.50" x2="634.27" y2="236.30" stroke="#333" stroke-width="1.1" />
<line x1="634.27" y1="10.20" x2="634.27" y2="12.40" stroke="#333" stroke-width="1.1" />
<line x1="641.60" y1="238.50" x2="641.60" y2="236.30" stroke="#333" stroke-width="1.1" />
<line x1="641.60" y1="10.20" x2="641.60" y2="12.40" stroke="#333" stroke-width="1.1" />
<line x1="648.93" y1="238.50" x2="648.93" y2="236.30" stroke="#333" stroke-width="1.1" />
<line x1="648.93" y1="10.20" x2="648.93" y2="12.40" stroke="#333" stroke-width="1.1" />
<line x1="656.27" y1="238.50" x2="656.27" y2="236.30" stroke="#333" stroke-width="1.1" />
<line x1="656.27" y1="10.20" x2="656.27" y2="12.40" stroke="#333" stroke-width="1.1" />
<line x1="443.60" y1="231.98" x2="445.80" y2="231.98" stroke="#333" stroke-width="1.1" />
<line x1="663.60" y1="231.98" x2="661.40" y2="231.98" stroke="#333" stroke-width="1.1" />
<line x1="443.60" y1="225.45" x2="445.80" y2="225.45" stroke="#333" stroke-width="1.1" />
<line x1="663.60" y1="225.45" x2="661.40" y2="225.45" stroke="#333" stroke-width="1.1" />
<line x1="443.60" y1="218.93" x2="445.80" y2="218.93" stroke="#333" stroke-width="1.1" />
<line x1="663.60" y1="218.93" x2="661.40" y2="218.93" stroke="#333" stroke-width="1.1" />
<line x1="443.60" y1="212.41" x2="445.80" y2="212.41" stroke="#333" stroke-width="1.1" />
<line x1="663.60" y1="212.41" x2="661.40" y2="212.41" stroke="#333" stroke-width="1.1" />
<line x1="443.60" y1="205.89" x2="445.80" y2="205.89" stroke="#333" stroke-width="1.1" />
<line x1="663.60" y1="205.89" x2="661.40" y2="205.89" stroke="#333" stroke-width="1.1" />
<line x1="443.60" y1="199.36" x2="445.80" y2="199.36" stroke="#333" stroke-width="1.1" />
<line x1="663.60" y1="199.36" x2="661.40" y2="199.36" stroke="#333" stroke-width="1.1" />
<line x1="443.60" y1="192.84" x2="445.80" y2="192.84" stroke="#333" stroke-width="1.1" />
<line x1="663.60" y1="192.84" x2="661.40" y2="192.84" stroke="#333" stroke-width="1.1" />
<line x1="443.60" y1="186.32" x2="445.80" y2="186.32" stroke="#333" stroke-width="1.1" />
<line x1="663.60" y1="186.32" x2="661.40" y2="186.32" stroke="#333" stroke-width="1.1" />
<line x1="443.60" y1="179.79" x2="445.80" y2="179.79" stroke="#333" stroke-width="1.1" />
<line x1="663.60" y1="179.79" x2="661.40" y2="179.79" stroke="#333" stroke-width="1.1" />
<line x1="443.60" y1="173.27" x2="445.80" y2="173.27" stroke="#333" stroke-width="1.1" />
<line x1="663.60" y1="173.27" x2="661.40" y2="173.27" stroke="#333" stroke-width="1.1" />
<line x1="443.60" y1="166.75" x2="445.80" y2="166.75" stroke="#333" stroke-width="1.1" />
<line x1="663.60" y1="166.75" x2="661.40" y2="166.75" stroke="#333" stroke-width="1.1" />
<line x1="443.60" y1="160.23" x2="445.80" y2="160.23" stroke="#333" stroke-width="1.1" />
<line x1="663.60" y1="160.23" x2="661.40" y2="160.23" stroke="#333" stroke-width="1.1" />
<line x1="443.60" y1="153.70" x2="445.80" y2="153.70" stroke="#333" stroke-width="1.1" />
<line x1="663.60" y1="153.70" x2="661.40" y2="153.70" stroke="#333" stroke-width="1.1" />
<line x1="443.60" y1="147.18" x2="445.80" y2="147.18" stroke="#333" stroke-width="1.1" />
<line x1="663.60" y1="147.18" x2="661.40" y2="147.18" stroke="#333" stroke-width="1.1" />
<line x1="443.60" y1="140.66" x2="445.80" y2="140.66" stroke="#333" stroke-width="1.1" />
<line x1="663.60" y1="140.66" x2="661.40" y2="140.66" stroke="#333" stroke-width="1.1" />
<line x1="443.60" y1="134.13" x2="445.80" y2="134.13" stroke="#333" stroke-width="1.1" />
<line x1="663.60" y1="134.13" x2="661.40" y2="134.13" stroke="#333" stroke-width="1.1" />
<line x1="443.60" y1="127.61" x2="445.80" y2="127.61" stroke="#333" stroke-width="1.1" />
<line x1="663.60" y1="127.61" x2="661.40" y2="127.61" stroke="#333" stroke-width="1.1" />
<line x1="443.60" y1="121.09" x2="445.80" y2="121.09" stroke="#333" stroke-width="1.1" />
<line x1="663.60" y1="121.09" x2="661.40" y2="121.09" stroke="#333" stroke-width="1.1" />
<line x1="443.60" y1="114.57" x2="445.80" y2="114.57" stroke="#333" stroke-width="1.1" />
<line x1="663.60" y1="114.57" x2="661.40" y2="114.57" stroke="#333" stroke-width="1.1" />
<line x1="443.60" y1="108.04" x2="445.80" y2="108.04" stroke="#333" stroke-width="1.1" />
<line x1="663.60" y1="108.04" x2="661.40" y2="108.04" stroke="#333" stroke-width="1.1" />
<line x1="443.60" y1="101.52" x2="445.80" y2="101.52" stroke="#333" stroke-width="1.1" />
<line x1="663.60" y1="101.52" x2="661.40" y2="101.52" stroke="#333" stroke-width="1.1" />
<line x1="443.60" y1="95.00" x2="445.80" y2="95.00" stroke="#333" stroke-width="1.1" />
<line x1="663.60" y1="95.00" x2="661.40" y2="95.00" stroke="#333" stroke-width="1.1" />
<line x1="443.60" y1="88.47" x2="445.80" y2="88.47" stroke="#333" stroke-width="1.1" />
<line x1="663.60" y1="88.47" x2="661.40" y2="88.47" stroke="#333" stroke-width="1.1" />
<line x1="443.60" y1="81.95" x2="445.80" y2="81.95" stroke="#333" stroke-width="1.1" />
<line x1="663.60" y1="81.95" x2="661.40" y2="81.95" stroke="#333" stroke-width="1.1" />
<line x1="443.60" y1="75.43" x2="445.80" y2="75.43" stroke="#333" stroke-width="1.1" />
<line x1="663.60" y1="75.43" x2="661.40" y2="75.43" stroke="#333" stroke-width="1.1" />
<line x1="443.60" y1="68.91" x2="445.80" y2="68.91" stroke="#333" stroke-width="1.1" />
<line x1="663.60" y1="68.91" x2="661.40" y2="68.91" stroke="#333" stroke-width="1.1" />
<line x1="443.60" y1="62.38" x2="445.80" y2="62.38" stroke="#333" stroke-width="1.1" />
<line x1="663.60" y1="62.38" x2="661.40" y2="62.38" stroke="#333" stroke-width="1.1" />
<line x1="443.60" y1="55.86" x2="445.80" y2="55.86" stroke="#333" stroke-width="1.1" />
<line x1="663.60" y1="55.86" x2="661.40" y2="55.86" stroke="#333" stroke-width="1.1" />
<line x1="443.60" y1="49.34" x2="445.80" y2="49.34" stroke="#333" stroke-width="1.1" />
<line x1="663.60" y1="49.34" x2="661.40" y2="49.34" stroke="#333" stroke-width="1.1" />
<line x1="443.60" y1="42.81" x2="445.80" y2="42.81" stroke="#333" stroke-width="1.1" />
<line x1="663.60" y1="42.81" x2="661.40" y2="42.81" stroke="#333" stroke-width="1.1" />
<line x1="443.60" y1="36.29" x2="445.80" y2="36.29" stroke="#333" stroke-width="1.1" />
<line x1="663.60" y1="36.29" x2="661.40" y2="36.29" stroke="#333" stroke-width="1.1" />
<line x1="443.60" y1="29.77" x2="445.80" y2="29.77" stroke="#333" stroke-width="1.1" />
<line x1="663.60" y1="29.77" x2="661.40" y2="29.77" stroke="#333" stroke-width="1.1" />
<line x1="443.60" y1="23.25" x2="445.80" y2="23.25" stroke="#333" stroke-width="1.1" />
<line x1="663.60" y1="23.25" x2="661.40" y2="23.25" stroke="#333" stroke-width="1.1" />
<line x1="443.60" y1="16.72" x2="445.80" y2="16.72" stroke="#333" stroke-width="1.1" />
<line x1="663.60" y1="16.72" x2="661.40" y2="16.72" stroke="#333" stroke-width="1.1" />
<text x="437.60" y="15.13" font-size="16" font-family='"Liberation Sans", sans-serif' text-anchor="end" fill="#231f20" >0.5</text>
<text x="437.60" y="47.75" font-size="16" font-family='"Liberation Sans", sans-serif' text-anchor="end" fill="#231f20" >0</text>
<text x="437.60" y="80.37" font-size="16" font-family='"Liberation Sans", sans-serif' text-anchor="end" fill="#231f20" >-0.5</text>
<text x="437.60" y="112.98" font-size="16" font-family='"Liberation Sans", sans-serif' text-anchor="end" fill="#231f20" >-1.0</text>
<text x="437.60" y="145.60" font-size="16" font-family='"Liberation Sans", sans-serif' text-anchor="end" fill="#231f20" >-1.5</text>
<text x="437.60" y="178.22" font-size="16" font-family='"Liberation Sans", sans-serif' text-anchor="end" fill="#231f20" >-2.0</text>
<text x="437.60" y="210.83" font-size="16" font-family='"Liberation Sans", sans-serif' text-anchor="end" fill="#231f20" >-2.5</text>
<text x="437.60" y="243.45" font-size="16" font-family='"Liberation Sans", sans-serif' text-anchor="end" fill="#231f20" >-3.0</text>
<text x="443.60" y="259.70" font-size="16" font-family='"Liberation Sans", sans-serif' text-anchor="middle" fill="#231f20" >0</text>
<text x="472.93" y="259.70" font-size="16" font-family='"Liberation Sans", sans-serif' text-anchor="middle" fill="#231f20" >2</text>
<text x="502.27" y="259.70" font-size="16" font-family='"Liberation Sans", sans-serif' text-anchor="middle" fill="#231f20" >4</text>
<text x="531.60" y="259.70" font-size="16" font-family='"Liberation Sans", sans-serif' text-anchor="middle" fill="#231f20" >6</text>
<text x="560.93" y="259.70" font-size="16" font-family='"Liberation Sans", sans-serif' text-anchor="middle" fill="#231f20" >8</text>
<text x="590.27" y="259.70" font-size="16" font-family='"Liberation Sans", sans-serif' text-anchor="middle" fill="#231f20" >10</text>
<text x="619.60" y="259.70" font-size="16" font-family='"Liberation Sans", sans-serif' text-anchor="middle" fill="#231f20" >12</text>
<text x="648.93" y="259.70" font-size="16" font-family='"Liberation Sans", sans-serif' text-anchor="middle" fill="#231f20" >14</text>
<text x="373.5" y="123.1" font-size="17" font-family='"Liberation Sans", sans-serif' fill="#231f20"><tspan font-style="italic">U</tspan><tspan font-family='"Liberation Serif", serif'>(</tspan><tspan font-family='"Liberation Serif", serif' font-style="italic">x</tspan><tspan font-family='"Liberation Serif", serif'>)</tspan></text>
<line x1="370.50" y1="129.90" x2="407.00" y2="129.90" stroke="#8a8a8a" stroke-width="1.4" />
<text x="374.2" y="145.4" font-size="17" font-family='"Liberation Sans", sans-serif' fill="#231f20"><tspan font-style="italic">k</tspan><tspan font-size="13" dy="4.3">B</tspan><tspan font-style="italic" dy="-4.3" dx="1.5">T</tspan></text>
<text x="528.4" y="281.1" font-size="17" font-family='"Liberation Sans", sans-serif' fill="#231f20"><tspan font-family='"Liberation Serif", serif' font-style="italic" font-size="18.5">x</tspan> (nm)</text>
<line x1="92.70" y1="504.33" x2="97.70" y2="504.33" stroke="#454545" stroke-width="1.1" />
<line x1="300.00" y1="504.33" x2="295.00" y2="504.33" stroke="#454545" stroke-width="1.1" />
<line x1="92.70" y1="467.16" x2="97.70" y2="467.16" stroke="#454545" stroke-width="1.1" />
<line x1="300.00" y1="467.16" x2="295.00" y2="467.16" stroke="#454545" stroke-width="1.1" />
<line x1="92.70" y1="429.99" x2="97.70" y2="429.99" stroke="#454545" stroke-width="1.1" />
<line x1="300.00" y1="429.99" x2="295.00" y2="429.99" stroke="#454545" stroke-width="1.1" />
<line x1="92.70" y1="392.82" x2="97.70" y2="392.82" stroke="#454545" stroke-width="1.1" />
<line x1="300.00" y1="392.82" x2="295.00" y2="392.82" stroke="#454545" stroke-width="1.1" />
<line x1="134.16" y1="381.30" x2="134.16" y2="386.30" stroke="#454545" stroke-width="1.1" />
<line x1="134.16" y1="541.50" x2="134.16" y2="536.50" stroke="#454545" stroke-width="1.1" />
<line x1="175.62" y1="381.30" x2="175.62" y2="386.30" stroke="#454545" stroke-width="1.1" />
<line x1="175.62" y1="541.50" x2="175.62" y2="536.50" stroke="#454545" stroke-width="1.1" />
<line x1="217.08" y1="381.30" x2="217.08" y2="386.30" stroke="#454545" stroke-width="1.1" />
<line x1="217.08" y1="541.50" x2="217.08" y2="536.50" stroke="#454545" stroke-width="1.1" />
<line x1="258.54" y1="381.30" x2="258.54" y2="386.30" stroke="#454545" stroke-width="1.1" />
<line x1="258.54" y1="541.50" x2="258.54" y2="536.50" stroke="#454545" stroke-width="1.1" />
<text x="85.30" y="546.45" font-size="16" font-family='"Liberation Sans", sans-serif' text-anchor="end" fill="#231f20" >1.33</text>
<text x="85.30" y="509.28" font-size="16" font-family='"Liberation Sans", sans-serif' text-anchor="end" fill="#231f20" >1.36</text>
<text x="85.30" y="472.11" font-size="16" font-family='"Liberation Sans", sans-serif' text-anchor="end" fill="#231f20" >1.39</text>
<text x="85.30" y="434.94" font-size="16" font-family='"Liberation Sans", sans-serif' text-anchor="end" fill="#231f20" >1.42</text>
<text x="85.30" y="397.77" font-size="16" font-family='"Liberation Sans", sans-serif' text-anchor="end" fill="#231f20" >1.45</text>
<text x="90.90" y="561.80" font-size="16" font-family='"Liberation Sans", sans-serif' text-anchor="middle" fill="#231f20" >0</text>
<text x="134.16" y="561.80" font-size="16" font-family='"Liberation Sans", sans-serif' text-anchor="middle" fill="#231f20" >20</text>
<text x="175.62" y="561.80" font-size="16" font-family='"Liberation Sans", sans-serif' text-anchor="middle" fill="#231f20" >40</text>
<text x="217.08" y="561.80" font-size="16" font-family='"Liberation Sans", sans-serif' text-anchor="middle" fill="#231f20" >60</text>
<text x="258.54" y="561.80" font-size="16" font-family='"Liberation Sans", sans-serif' text-anchor="middle" fill="#231f20" >80</text>
<text x="299.20" y="561.80" font-size="16" font-family='"Liberation Sans", sans-serif' text-anchor="middle" fill="#231f20" >100</text>
<line x1="92.70" y1="417.80" x2="300.00" y2="417.80" stroke="#2a7445" stroke-width="1.9" />
<path d="M92.7 541.5 L94.8 540.0 L96.9 538.6 L99.0 537.1 L101.1 535.6 L103.2 534.2 L105.3 532.7 L107.4 531.3 L109.5 529.9 L111.5 528.4 L113.6 527.0 L115.7 525.6 L117.8 524.1 L119.9 522.7 L122.0 521.3 L124.1 519.9 L126.2 518.5 L128.3 517.1 L130.4 515.7 L132.5 514.3 L134.6 512.9 L136.7 511.5 L138.8 510.2 L140.9 508.8 L143.0 507.4 L145.0 506.1 L147.1 504.7 L149.2 503.3 L151.3 502.0 L153.4 500.6 L155.5 499.3 L157.6 498.0 L159.7 496.6 L161.8 495.3 L163.9 494.0 L166.0 492.7 L168.1 491.3 L170.2 490.0 L172.3 488.7 L174.4 487.4 L176.5 486.1 L178.6 484.8 L180.6 483.5 L182.7 482.3 L184.8 481.0 L186.9 479.7 L189.0 478.4 L191.1 477.2 L193.2 475.9 L195.3 474.6 L197.4 473.4 L199.5 472.1 L201.6 470.9 L203.7 469.6 L205.8 468.4 L207.9 467.2 L210.0 465.9 L212.1 464.7 L214.1 463.5 L216.2 462.3 L218.3 461.1 L220.4 459.9 L222.5 458.7 L224.6 457.5 L226.7 456.3 L228.8 455.1 L230.9 453.9 L233.0 452.7 L235.1 451.6 L237.2 450.4 L239.3 449.2 L241.4 448.1 L243.5 446.9 L245.6 445.7 L247.7 444.6 L249.7 443.4 L251.8 442.3 L253.9 441.2 L256.0 440.0 L258.1 438.9 L260.2 437.8 L262.3 436.7 L264.4 435.6 L266.5 434.4 L268.6 433.3 L270.7 432.2 L272.8 431.1 L274.9 430.1 L277.0 429.0 L279.1 427.9 L281.2 426.8 L283.2 425.7 L285.3 424.7 L287.4 423.6 L289.5 422.5 L291.6 421.5 L293.7 420.4 L295.8 419.4 L297.9 418.3 L300.0 417.3" fill="none" stroke="#1a1a1a" stroke-width="1.3"/>
<rect x="92.70" y="381.30" width="207.30" height="160.20" fill="none" stroke="#454545" stroke-width="1.3"/>
<circle cx="92.70" cy="541.40" r="3.1" fill="#1c1a1a"/>
<circle cx="113.43" cy="523.60" r="3.1" fill="#1c1a1a"/>
<circle cx="134.16" cy="511.20" r="3.1" fill="#1c1a1a"/>
<circle cx="154.89" cy="498.70" r="3.1" fill="#1c1a1a"/>
<circle cx="175.62" cy="485.60" r="3.1" fill="#1c1a1a"/>
<circle cx="196.35" cy="473.10" r="3.1" fill="#1c1a1a"/>
<circle cx="217.08" cy="461.70" r="3.1" fill="#1c1a1a"/>
<circle cx="237.81" cy="450.00" r="3.1" fill="#1c1a1a"/>
<circle cx="258.54" cy="438.30" r="3.1" fill="#1c1a1a"/>
<circle cx="279.27" cy="426.90" r="3.1" fill="#1c1a1a"/>
<circle cx="300.00" cy="417.30" r="3.1" fill="#1c1a1a"/>
<text x="108.6" y="411.7" font-size="13" font-family='"Liberation Sans", sans-serif' fill="#231f20"><tspan font-style="italic">n</tspan><tspan font-style="italic" font-size="9.9" dy="2">silica</tspan><tspan dy="-2"> = 1.43</tspan></text>
<text x="24.8" y="470.3" font-size="17" font-family='"Liberation Sans", sans-serif' fill="#231f20" font-style="italic">n<tspan font-size="15" dy="3.2">m</tspan></text>
<text x="167.6" y="585.8" font-size="17" font-family='"Liberation Sans", sans-serif' fill="#231f20"><tspan font-style="italic">C</tspan><tspan font-size="14" dy="1.6">EG</tspan><tspan font-style="italic" font-size="17.5" dy="-1.6">(%)</tspan></text>
<line x1="443.60" y1="502.40" x2="449.60" y2="502.40" stroke="#454545" stroke-width="1.1" />
<line x1="658.10" y1="502.40" x2="652.10" y2="502.40" stroke="#454545" stroke-width="1.1" />
<line x1="443.60" y1="468.00" x2="449.60" y2="468.00" stroke="#454545" stroke-width="1.1" />
<line x1="658.10" y1="468.00" x2="652.10" y2="468.00" stroke="#454545" stroke-width="1.1" />
<line x1="443.60" y1="433.60" x2="449.60" y2="433.60" stroke="#454545" stroke-width="1.1" />
<line x1="658.10" y1="433.60" x2="652.10" y2="433.60" stroke="#454545" stroke-width="1.1" />
<line x1="443.60" y1="399.20" x2="449.60" y2="399.20" stroke="#454545" stroke-width="1.1" />
<line x1="658.10" y1="399.20" x2="652.10" y2="399.20" stroke="#454545" stroke-width="1.1" />
<line x1="443.60" y1="364.80" x2="449.60" y2="364.80" stroke="#454545" stroke-width="1.1" />
<line x1="658.10" y1="364.80" x2="652.10" y2="364.80" stroke="#454545" stroke-width="1.1" />
<line x1="486.50" y1="330.40" x2="486.50" y2="336.40" stroke="#454545" stroke-width="1.1" />
<line x1="486.50" y1="536.80" x2="486.50" y2="530.80" stroke="#454545" stroke-width="1.1" />
<line x1="529.40" y1="330.40" x2="529.40" y2="336.40" stroke="#454545" stroke-width="1.1" />
<line x1="529.40" y1="536.80" x2="529.40" y2="530.80" stroke="#454545" stroke-width="1.1" />
<line x1="572.30" y1="330.40" x2="572.30" y2="336.40" stroke="#454545" stroke-width="1.1" />
<line x1="572.30" y1="536.80" x2="572.30" y2="530.80" stroke="#454545" stroke-width="1.1" />
<line x1="615.20" y1="330.40" x2="615.20" y2="336.40" stroke="#454545" stroke-width="1.1" />
<line x1="615.20" y1="536.80" x2="615.20" y2="530.80" stroke="#454545" stroke-width="1.1" />
<text x="435.00" y="541.35" font-size="16" font-family='"Liberation Sans", sans-serif' text-anchor="end" fill="#231f20" >0</text>
<text x="435.00" y="506.95" font-size="16" font-family='"Liberation Sans", sans-serif' text-anchor="end" fill="#231f20" >0.04</text>
<text x="435.00" y="472.55" font-size="16" font-family='"Liberation Sans", sans-serif' text-anchor="end" fill="#231f20" >0.08</text>
<text x="435.00" y="438.15" font-size="16" font-family='"Liberation Sans", sans-serif' text-anchor="end" fill="#231f20" >0.12</text>
<text x="435.00" y="403.75" font-size="16" font-family='"Liberation Sans", sans-serif' text-anchor="end" fill="#231f20" >0.16</text>
<text x="435.00" y="369.35" font-size="16" font-family='"Liberation Sans", sans-serif' text-anchor="end" fill="#231f20" >0.20</text>
<text x="435.00" y="334.95" font-size="16" font-family='"Liberation Sans", sans-serif' text-anchor="end" fill="#231f20" >0.24</text>
<text x="442.00" y="556.80" font-size="16" font-family='"Liberation Sans", sans-serif' text-anchor="middle" fill="#231f20" >0</text>
<text x="486.50" y="556.80" font-size="16" font-family='"Liberation Sans", sans-serif' text-anchor="middle" fill="#231f20" >20</text>
<text x="529.40" y="556.80" font-size="16" font-family='"Liberation Sans", sans-serif' text-anchor="middle" fill="#231f20" >40</text>
<text x="572.30" y="556.80" font-size="16" font-family='"Liberation Sans", sans-serif' text-anchor="middle" fill="#231f20" >60</text>
<text x="615.20" y="556.80" font-size="16" font-family='"Liberation Sans", sans-serif' text-anchor="middle" fill="#231f20" >80</text>
<text x="660.30" y="556.80" font-size="16" font-family='"Liberation Sans", sans-serif' text-anchor="middle" fill="#231f20" >100</text>
<path d="M443.6 348.2 L444.7 351.1 L445.8 353.9 L446.8 356.6 L447.9 359.1 L449.0 361.6 L450.1 363.9 L451.1 366.1 L452.2 368.3 L453.3 370.3 L454.4 372.3 L455.5 374.2 L456.5 376.0 L457.6 377.7 L458.7 379.4 L459.8 381.0 L460.8 382.5 L461.9 384.0 L463.0 385.5 L464.1 386.8 L465.2 388.2 L466.2 389.5 L467.3 390.7 L468.4 392.0 L469.5 393.1 L470.5 394.3 L471.6 395.4 L472.7 396.5 L473.8 397.5 L474.9 398.6 L475.9 399.6 L477.0 400.5 L478.1 401.5 L479.2 402.4 L480.2 403.3 L481.3 404.2 L482.4 405.1 L483.5 406.0 L484.6 406.8 L485.6 407.6 L486.7 408.5 L487.8 409.3 L488.9 410.0 L489.9 410.8 L491.0 411.6 L492.1 412.3 L493.2 413.1 L494.3 413.8 L495.3 414.5 L496.4 415.2 L497.5 416.0 L498.6 416.7 L499.7 417.4 L500.7 418.0 L501.8 418.7 L502.9 419.4 L504.0 420.1 L505.0 420.7 L506.1 421.4 L507.2 422.0 L508.3 422.7 L509.4 423.3 L510.4 424.0 L511.5 424.6 L512.6 425.3 L513.7 425.9 L514.7 426.5 L515.8 427.1 L516.9 427.8 L518.0 428.4 L519.1 429.0 L520.1 429.6 L521.2 430.2 L522.3 430.9 L523.4 431.5 L524.4 432.1 L525.5 432.7 L526.6 433.3 L527.7 433.9 L528.8 434.5 L529.8 435.1 L530.9 435.7 L532.0 436.3 L533.1 436.9 L534.1 437.5 L535.2 438.1 L536.3 438.7 L537.4 439.3 L538.5 439.9 L539.5 440.5 L540.6 441.0 L541.7 441.6 L542.8 442.2 L543.8 442.8 L544.9 443.4 L546.0 444.0 L547.1 444.6 L548.2 445.2 L549.2 445.8 L550.3 446.3 L551.4 446.9 L552.5 447.5 L553.5 448.1 L554.6 448.7 L555.7 449.3 L556.8 449.8 L557.9 450.4 L558.9 451.0 L560.0 451.6 L561.1 452.2 L562.2 452.8 L563.2 453.3 L564.3 453.9 L565.4 454.5 L566.5 455.1 L567.6 455.7 L568.6 456.3 L569.7 456.8 L570.8 457.4 L571.9 458.0 L572.9 458.6 L574.0 459.2 L575.1 459.7 L576.2 460.3 L577.3 460.9 L578.3 461.5 L579.4 462.1 L580.5 462.7 L581.6 463.2 L582.6 463.8 L583.7 464.4 L584.8 465.0 L585.9 465.6 L587.0 466.1 L588.0 466.7 L589.1 467.3 L590.2 467.9 L591.3 468.5 L592.3 469.0 L593.4 469.6 L594.5 470.2 L595.6 470.8 L596.7 471.4 L597.7 471.9 L598.8 472.5 L599.9 473.1 L601.0 473.7 L602.0 474.3 L603.1 474.8 L604.2 475.4 L605.3 476.0 L606.4 476.6 L607.4 477.2 L608.5 477.7 L609.6 478.3 L610.7 478.9 L611.8 479.5 L612.8 480.1 L613.9 480.6 L615.0 481.2 L616.1 481.8 L617.1 482.4 L618.2 482.9 L619.3 483.5 L620.4 484.1 L621.5 484.7 L622.5 485.3 L623.6 485.8 L624.7 486.4 L625.8 487.0 L626.8 487.6 L627.9 488.2 L629.0 488.7 L630.1 489.3 L631.2 489.9 L632.2 490.5 L633.3 491.1 L634.4 491.6 L635.5 492.2 L636.5 492.8 L637.6 493.4 L638.7 494.0 L639.8 494.5 L640.9 495.1 L641.9 495.7 L643.0 496.3 L644.1 496.9 L645.2 497.4 L646.2 498.0 L647.3 498.6 L648.4 499.2 L649.5 499.8 L650.6 500.3 L651.6 500.9 L652.7 501.5 L653.8 502.1 L654.9 502.6 L655.9 503.2 L657.0 503.8 L658.1 504.4" fill="none" stroke="#ec7a52" stroke-width="1.6" stroke-dasharray="4.5,3.5"/>
<path d="M443.6 418.3 L444.7 420.7 L445.8 423.0 L446.8 425.2 L447.9 427.3 L449.0 429.3 L450.1 431.3 L451.1 433.1 L452.2 434.9 L453.3 436.5 L454.4 438.1 L455.5 439.7 L456.5 441.1 L457.6 442.5 L458.7 443.9 L459.8 445.1 L460.8 446.4 L461.9 447.6 L463.0 448.7 L464.1 449.8 L465.2 450.8 L466.2 451.8 L467.3 452.8 L468.4 453.7 L469.5 454.6 L470.5 455.5 L471.6 456.3 L472.7 457.1 L473.8 457.9 L474.9 458.7 L475.9 459.4 L477.0 460.1 L478.1 460.8 L479.2 461.4 L480.2 462.0 L481.3 462.7 L482.4 463.3 L483.5 463.8 L484.6 464.4 L485.6 465.0 L486.7 465.5 L487.8 466.0 L488.9 466.5 L489.9 467.0 L491.0 467.5 L492.1 468.0 L493.2 468.5 L494.3 468.9 L495.3 469.4 L496.4 469.8 L497.5 470.2 L498.6 470.7 L499.7 471.1 L500.7 471.5 L501.8 471.9 L502.9 472.3 L504.0 472.7 L505.0 473.0 L506.1 473.4 L507.2 473.8 L508.3 474.1 L509.4 474.5 L510.4 474.9 L511.5 475.2 L512.6 475.6 L513.7 475.9 L514.7 476.3 L515.8 476.6 L516.9 476.9 L518.0 477.3 L519.1 477.6 L520.1 477.9 L521.2 478.2 L522.3 478.6 L523.4 478.9 L524.4 479.2 L525.5 479.5 L526.6 479.8 L527.7 480.1 L528.8 480.5 L529.8 480.8 L530.9 481.1 L532.0 481.4 L533.1 481.7 L534.1 482.0 L535.2 482.3 L536.3 482.6 L537.4 482.9 L538.5 483.2 L539.5 483.5 L540.6 483.8 L541.7 484.1 L542.8 484.4 L543.8 484.7 L544.9 485.0 L546.0 485.2 L547.1 485.5 L548.2 485.8 L549.2 486.1 L550.3 486.4 L551.4 486.7 L552.5 487.0 L553.5 487.3 L554.6 487.6 L555.7 487.8 L556.8 488.1 L557.9 488.4 L558.9 488.7 L560.0 489.0 L561.1 489.3 L562.2 489.6 L563.2 489.8 L564.3 490.1 L565.4 490.4 L566.5 490.7 L567.6 491.0 L568.6 491.3 L569.7 491.5 L570.8 491.8 L571.9 492.1 L572.9 492.4 L574.0 492.7 L575.1 493.0 L576.2 493.2 L577.3 493.5 L578.3 493.8 L579.4 494.1 L580.5 494.4 L581.6 494.6 L582.6 494.9 L583.7 495.2 L584.8 495.5 L585.9 495.8 L587.0 496.1 L588.0 496.3 L589.1 496.6 L590.2 496.9 L591.3 497.2 L592.3 497.5 L593.4 497.7 L594.5 498.0 L595.6 498.3 L596.7 498.6 L597.7 498.9 L598.8 499.1 L599.9 499.4 L601.0 499.7 L602.0 500.0 L603.1 500.3 L604.2 500.5 L605.3 500.8 L606.4 501.1 L607.4 501.4 L608.5 501.7 L609.6 501.9 L610.7 502.2 L611.8 502.5 L612.8 502.8 L613.9 503.1 L615.0 503.3 L616.1 503.6 L617.1 503.9 L618.2 504.2 L619.3 504.4 L620.4 504.7 L621.5 505.0 L622.5 505.3 L623.6 505.6 L624.7 505.8 L625.8 506.1 L626.8 506.4 L627.9 506.7 L629.0 507.0 L630.1 507.2 L631.2 507.5 L632.2 507.8 L633.3 508.1 L634.4 508.4 L635.5 508.6 L636.5 508.9 L637.6 509.2 L638.7 509.5 L639.8 509.8 L640.9 510.0 L641.9 510.3 L643.0 510.6 L644.1 510.9 L645.2 511.2 L646.2 511.4 L647.3 511.7 L648.4 512.0 L649.5 512.3 L650.6 512.5 L651.6 512.8 L652.7 513.1 L653.8 513.4 L654.9 513.7 L655.9 513.9 L657.0 514.2 L658.1 514.5" fill="none" stroke="#ec7a52" stroke-width="1.6"/>
<path d="M443.6 447.2 L444.7 449.5 L445.8 451.7 L446.8 453.8 L447.9 455.8 L449.0 457.7 L450.1 459.6 L451.1 461.4 L452.2 463.0 L453.3 464.7 L454.4 466.2 L455.5 467.7 L456.5 469.2 L457.6 470.5 L458.7 471.9 L459.8 473.1 L460.8 474.4 L461.9 475.5 L463.0 476.7 L464.1 477.8 L465.2 478.8 L466.2 479.8 L467.3 480.8 L468.4 481.7 L469.5 482.6 L470.5 483.5 L471.6 484.3 L472.7 485.2 L473.8 485.9 L474.9 486.7 L475.9 487.4 L477.0 488.1 L478.1 488.8 L479.2 489.5 L480.2 490.1 L481.3 490.8 L482.4 491.4 L483.5 492.0 L484.6 492.5 L485.6 493.1 L486.7 493.6 L487.8 494.2 L488.9 494.7 L489.9 495.2 L491.0 495.7 L492.1 496.2 L493.2 496.6 L494.3 497.1 L495.3 497.5 L496.4 498.0 L497.5 498.4 L498.6 498.8 L499.7 499.2 L500.7 499.6 L501.8 500.0 L502.9 500.4 L504.0 500.8 L505.0 501.1 L506.1 501.5 L507.2 501.9 L508.3 502.2 L509.4 502.6 L510.4 502.9 L511.5 503.3 L512.6 503.6 L513.7 503.9 L514.7 504.2 L515.8 504.6 L516.9 504.9 L518.0 505.2 L519.1 505.5 L520.1 505.8 L521.2 506.1 L522.3 506.4 L523.4 506.7 L524.4 507.0 L525.5 507.3 L526.6 507.6 L527.7 507.9 L528.8 508.2 L529.8 508.5 L530.9 508.7 L532.0 509.0 L533.1 509.3 L534.1 509.6 L535.2 509.9 L536.3 510.1 L537.4 510.4 L538.5 510.7 L539.5 510.9 L540.6 511.2 L541.7 511.5 L542.8 511.7 L543.8 512.0 L544.9 512.3 L546.0 512.5 L547.1 512.8 L548.2 513.0 L549.2 513.3 L550.3 513.6 L551.4 513.8 L552.5 514.1 L553.5 514.3 L554.6 514.6 L555.7 514.8 L556.8 515.1 L557.9 515.4 L558.9 515.6 L560.0 515.9 L561.1 516.1 L562.2 516.4 L563.2 516.6 L564.3 516.9 L565.4 517.1 L566.5 517.4 L567.6 517.6 L568.6 517.9 L569.7 518.1 L570.8 518.4 L571.9 518.6 L572.9 518.9 L574.0 519.1 L575.1 519.4 L576.2 519.6 L577.3 519.9 L578.3 520.1 L579.4 520.3 L580.5 520.6 L581.6 520.8 L582.6 521.1 L583.7 521.3 L584.8 521.6 L585.9 521.8 L587.0 522.1 L588.0 522.3 L589.1 522.6 L590.2 522.8 L591.3 523.0 L592.3 523.3 L593.4 523.5 L594.5 523.8 L595.6 524.0 L596.7 524.3 L597.7 524.5 L598.8 524.8 L599.9 525.0 L601.0 525.2 L602.0 525.5 L603.1 525.7 L604.2 526.0 L605.3 526.2 L606.4 526.5 L607.4 526.7 L608.5 527.0 L609.6 527.2 L610.7 527.4 L611.8 527.7 L612.8 527.9 L613.9 528.2 L615.0 528.4 L616.1 528.7 L617.1 528.9 L618.2 529.1 L619.3 529.4 L620.4 529.6 L621.5 529.9 L622.5 530.1 L623.6 530.4 L624.7 530.6 L625.8 530.8 L626.8 531.1 L627.9 531.3 L629.0 531.6 L630.1 531.8 L631.2 532.1 L632.2 532.3 L633.3 532.5 L634.4 532.8 L635.5 533.0 L636.5 533.3 L637.6 533.5 L638.7 533.8 L639.8 534.0 L640.9 534.2 L641.9 534.5 L643.0 534.7 L644.1 535.0 L645.2 535.2 L646.2 535.5 L647.3 535.7 L648.4 535.9 L649.5 536.2 L650.6 536.4 L651.6 536.7 L652.7 536.9 L653.8 537.1 L654.9 537.4 L655.9 537.6 L657.0 537.9 L658.1 538.1" fill="none" stroke="#6a5ec0" stroke-width="1.6"/>
<path d="M443.6 508.1 L444.7 508.1 L445.8 508.1 L446.8 508.1 L447.9 508.1 L449.0 508.2 L450.1 508.2 L451.1 508.2 L452.2 508.2 L453.3 508.3 L454.4 508.3 L455.5 508.3 L456.5 508.3 L457.6 508.3 L458.7 508.4 L459.8 508.4 L460.8 508.4 L461.9 508.4 L463.0 508.5 L464.1 508.5 L465.2 508.5 L466.2 508.5 L467.3 508.5 L468.4 508.6 L469.5 508.6 L470.5 508.6 L471.6 508.6 L472.7 508.6 L473.8 508.7 L474.9 508.7 L475.9 508.7 L477.0 508.7 L478.1 508.8 L479.2 508.8 L480.2 508.8 L481.3 508.8 L482.4 508.8 L483.5 508.9 L484.6 508.9 L485.6 508.9 L486.7 508.9 L487.8 509.0 L488.9 509.0 L489.9 509.0 L491.0 509.0 L492.1 509.0 L493.2 509.1 L494.3 509.1 L495.3 509.1 L496.4 509.1 L497.5 509.2 L498.6 509.2 L499.7 509.2 L500.7 509.2 L501.8 509.2 L502.9 509.3 L504.0 509.3 L505.0 509.3 L506.1 509.3 L507.2 509.4 L508.3 509.4 L509.4 509.4 L510.4 509.4 L511.5 509.4 L512.6 509.5 L513.7 509.5 L514.7 509.5 L515.8 509.5 L516.9 509.5 L518.0 509.6 L519.1 509.6 L520.1 509.6 L521.2 509.6 L522.3 509.7 L523.4 509.7 L524.4 509.7 L525.5 509.7 L526.6 509.7 L527.7 509.8 L528.8 509.8 L529.8 509.8 L530.9 509.8 L532.0 509.9 L533.1 509.9 L534.1 509.9 L535.2 509.9 L536.3 509.9 L537.4 510.0 L538.5 510.0 L539.5 510.0 L540.6 510.0 L541.7 510.1 L542.8 510.1 L543.8 510.1 L544.9 510.1 L546.0 510.1 L547.1 510.2 L548.2 510.2 L549.2 510.2 L550.3 510.2 L551.4 510.2 L552.5 510.3 L553.5 510.3 L554.6 510.3 L555.7 510.3 L556.8 510.4 L557.9 510.4 L558.9 510.4 L560.0 510.4 L561.1 510.4 L562.2 510.5 L563.2 510.5 L564.3 510.5 L565.4 510.5 L566.5 510.6 L567.6 510.6 L568.6 510.6 L569.7 510.6 L570.8 510.6 L571.9 510.7 L572.9 510.7 L574.0 510.7 L575.1 510.7 L576.2 510.8 L577.3 510.8 L578.3 510.8 L579.4 510.8 L580.5 510.8 L581.6 510.9 L582.6 510.9 L583.7 510.9 L584.8 510.9 L585.9 510.9 L587.0 511.0 L588.0 511.0 L589.1 511.0 L590.2 511.0 L591.3 511.1 L592.3 511.1 L593.4 511.1 L594.5 511.1 L595.6 511.1 L596.7 511.2 L597.7 511.2 L598.8 511.2 L599.9 511.2 L601.0 511.3 L602.0 511.3 L603.1 511.3 L604.2 511.3 L605.3 511.3 L606.4 511.4 L607.4 511.4 L608.5 511.4 L609.6 511.4 L610.7 511.5 L611.8 511.5 L612.8 511.5 L613.9 511.5 L615.0 511.5 L616.1 511.6 L617.1 511.6 L618.2 511.6 L619.3 511.6 L620.4 511.6 L621.5 511.7 L622.5 511.7 L623.6 511.7 L624.7 511.7 L625.8 511.8 L626.8 511.8 L627.9 511.8 L629.0 511.8 L630.1 511.8 L631.2 511.9 L632.2 511.9 L633.3 511.9 L634.4 511.9 L635.5 512.0 L636.5 512.0 L637.6 512.0 L638.7 512.0 L639.8 512.0 L640.9 512.1 L641.9 512.1 L643.0 512.1 L644.1 512.1 L645.2 512.2 L646.2 512.2 L647.3 512.2 L648.4 512.2 L649.5 512.2 L650.6 512.3 L651.6 512.3 L652.7 512.3 L653.8 512.3 L654.9 512.3 L655.9 512.4 L657.0 512.4 L658.1 512.4" fill="none" stroke="#34a865" stroke-width="1.8"/>
<rect x="443.60" y="330.40" width="214.50" height="206.40" fill="none" stroke="#454545" stroke-width="1.3"/>
<circle cx="443.60" cy="508.90" r="4.6" fill="#169a58"/>
<circle cx="465.05" cy="508.90" r="4.6" fill="#169a58"/>
<circle cx="486.50" cy="508.90" r="4.6" fill="#169a58"/>
<circle cx="507.95" cy="508.90" r="4.6" fill="#169a58"/>
<circle cx="529.40" cy="509.20" r="4.6" fill="#169a58"/>
<circle cx="550.85" cy="509.60" r="4.6" fill="#169a58"/>
<circle cx="572.30" cy="510.40" r="4.6" fill="#169a58"/>
<circle cx="593.75" cy="510.80" r="4.6" fill="#169a58"/>
<circle cx="615.20" cy="511.20" r="4.6" fill="#169a58"/>
<circle cx="636.65" cy="512.90" r="4.6" fill="#169a58"/>
<circle cx="658.10" cy="512.90" r="4.6" fill="#169a58"/>
<circle cx="443.60" cy="446.60" r="4.6" fill="#2b2890"/>
<circle cx="465.05" cy="481.70" r="4.6" fill="#2b2890"/>
<circle cx="486.50" cy="490.70" r="4.6" fill="#2b2890"/>
<circle cx="507.95" cy="498.90" r="4.6" fill="#2b2890"/>
<circle cx="529.40" cy="509.30" r="4.6" fill="#2b2890"/>
<circle cx="550.85" cy="516.20" r="4.6" fill="#2b2890"/>
<circle cx="572.30" cy="519.20" r="4.6" fill="#2b2890"/>
<circle cx="593.75" cy="524.90" r="4.6" fill="#2b2890"/>
<circle cx="615.20" cy="528.70" r="4.6" fill="#2b2890"/>
<circle cx="636.65" cy="533.00" r="4.6" fill="#2b2890"/>
<circle cx="658.10" cy="536.60" r="4.6" fill="#2b2890"/>
<circle cx="443.60" cy="417.80" r="4.6" fill="#d92a22"/>
<circle cx="465.05" cy="453.30" r="4.6" fill="#d92a22"/>
<circle cx="486.50" cy="462.70" r="4.6" fill="#d92a22"/>
<circle cx="507.95" cy="470.50" r="4.6" fill="#d92a22"/>
<circle cx="529.40" cy="482.40" r="4.6" fill="#d92a22"/>
<circle cx="550.85" cy="489.40" r="4.6" fill="#d92a22"/>
<circle cx="572.30" cy="492.40" r="4.6" fill="#d92a22"/>
<circle cx="593.75" cy="498.80" r="4.6" fill="#d92a22"/>
<circle cx="615.20" cy="503.40" r="4.6" fill="#d92a22"/>
<circle cx="636.65" cy="508.30" r="4.6" fill="#d92a22"/>
<circle cx="658.10" cy="513.50" r="4.6" fill="#d92a22"/>
<path d="M443.60 343.00 L448.20 351.00 L439.00 351.00 Z" fill="#d92a22"/>
<path d="M465.05 385.60 L469.65 393.60 L460.45 393.60 Z" fill="#d92a22"/>
<path d="M486.50 400.60 L491.10 408.60 L481.90 408.60 Z" fill="#d92a22"/>
<path d="M507.95 414.40 L512.55 422.40 L503.35 422.40 Z" fill="#d92a22"/>
<path d="M529.40 432.20 L534.00 440.20 L524.80 440.20 Z" fill="#d92a22"/>
<path d="M550.85 444.30 L555.45 452.30 L546.25 452.30 Z" fill="#d92a22"/>
<path d="M572.30 453.60 L576.90 461.60 L567.70 461.60 Z" fill="#d92a22"/>
<path d="M593.75 465.90 L598.35 473.90 L589.15 473.90 Z" fill="#d92a22"/>
<path d="M615.20 476.90 L619.80 484.90 L610.60 484.90 Z" fill="#d92a22"/>
<path d="M636.65 487.60 L641.25 495.60 L632.05 495.60 Z" fill="#d92a22"/>
<path d="M658.10 498.20 L662.70 506.20 L653.50 506.20 Z" fill="#d92a22"/>
<circle cx="521.6" cy="348.3" r="4" fill="#d92a22"/>
<path d="M521.60 362.96 L525.80 370.36 L517.40 370.36 Z" fill="#d92a22"/>
<circle cx="521.6" cy="386.1" r="4" fill="#2b2890"/>
<circle cx="521.6" cy="405" r="4" fill="#169a58"/>
<text x="534.2" y="351.50" font-size="12.5" font-family='"Liberation Sans", sans-serif' fill="#231f20"><tspan font-style="italic">A</tspan><tspan>(0)</tspan><tspan font-style="italic"> / k</tspan><tspan font-size="9.8" dy="2.4">B</tspan><tspan font-style="italic" dy="-2.4">T</tspan><tspan> (PAA</tspan><tspan font-size="9.8" dy="2.4">m</tspan><tspan dy="-2.4">)</tspan></text>
<text x="534.2" y="370.00" font-size="12.5" font-family='"Liberation Sans", sans-serif' fill="#231f20"><tspan font-style="italic">A</tspan><tspan>(0)</tspan><tspan font-style="italic"> / k</tspan><tspan font-size="9.8" dy="2.4">B</tspan><tspan font-style="italic" dy="-2.4">T</tspan><tspan> (PDMA</tspan><tspan>)</tspan></text>
<text x="534.2" y="389.50" font-size="12.5" font-family='"Liberation Sans", sans-serif' fill="#231f20"><tspan font-style="italic">A</tspan><tspan font-size="9.2" dy="2.4">v&gt;0</tspan><tspan dy="-2.4">(0)</tspan><tspan font-style="italic"> / k</tspan><tspan font-size="9.8" dy="2.4">B</tspan><tspan font-style="italic" dy="-2.4">T</tspan><tspan> (PAA</tspan><tspan font-size="9.8" dy="2.4">m</tspan><tspan dy="-2.4">)</tspan></text>
<text x="534.2" y="408.50" font-size="12.5" font-family='"Liberation Sans", sans-serif' fill="#231f20"><tspan font-style="italic">A</tspan><tspan font-size="9.2" dy="2.4">v=0</tspan><tspan dy="-2.4">(0)</tspan><tspan font-style="italic"> / k</tspan><tspan font-size="9.8" dy="2.4">B</tspan><tspan font-style="italic" dy="-2.4">T</tspan><tspan> (PAA</tspan><tspan font-size="9.8" dy="2.4">m</tspan><tspan dy="-2.4">)</tspan></text>
<text x="362.6" y="424.4" font-size="17" font-family='"Liberation Sans", sans-serif' fill="#231f20"><tspan font-style="italic">A</tspan>(0)</text>
<line x1="360.40" y1="430.80" x2="397.10" y2="430.80" stroke="#8a8a8a" stroke-width="1.4" />
<text x="363.5" y="446.7" font-size="17" font-family='"Liberation Sans", sans-serif' fill="#231f20"><tspan font-style="italic">k</tspan><tspan font-size="13" dy="3.7">B</tspan><tspan font-style="italic" dy="-3.7" dx="1.5">T</tspan></text>
<text x="526.6" y="582.7" font-size="17" font-family='"Liberation Sans", sans-serif' fill="#231f20"><tspan font-style="italic">C</tspan><tspan font-size="14" dy="1.9">EG</tspan><tspan font-style="italic" font-size="17.5" dy="-1.9">(%)</tspan></text>
</svg>
</body></html>
